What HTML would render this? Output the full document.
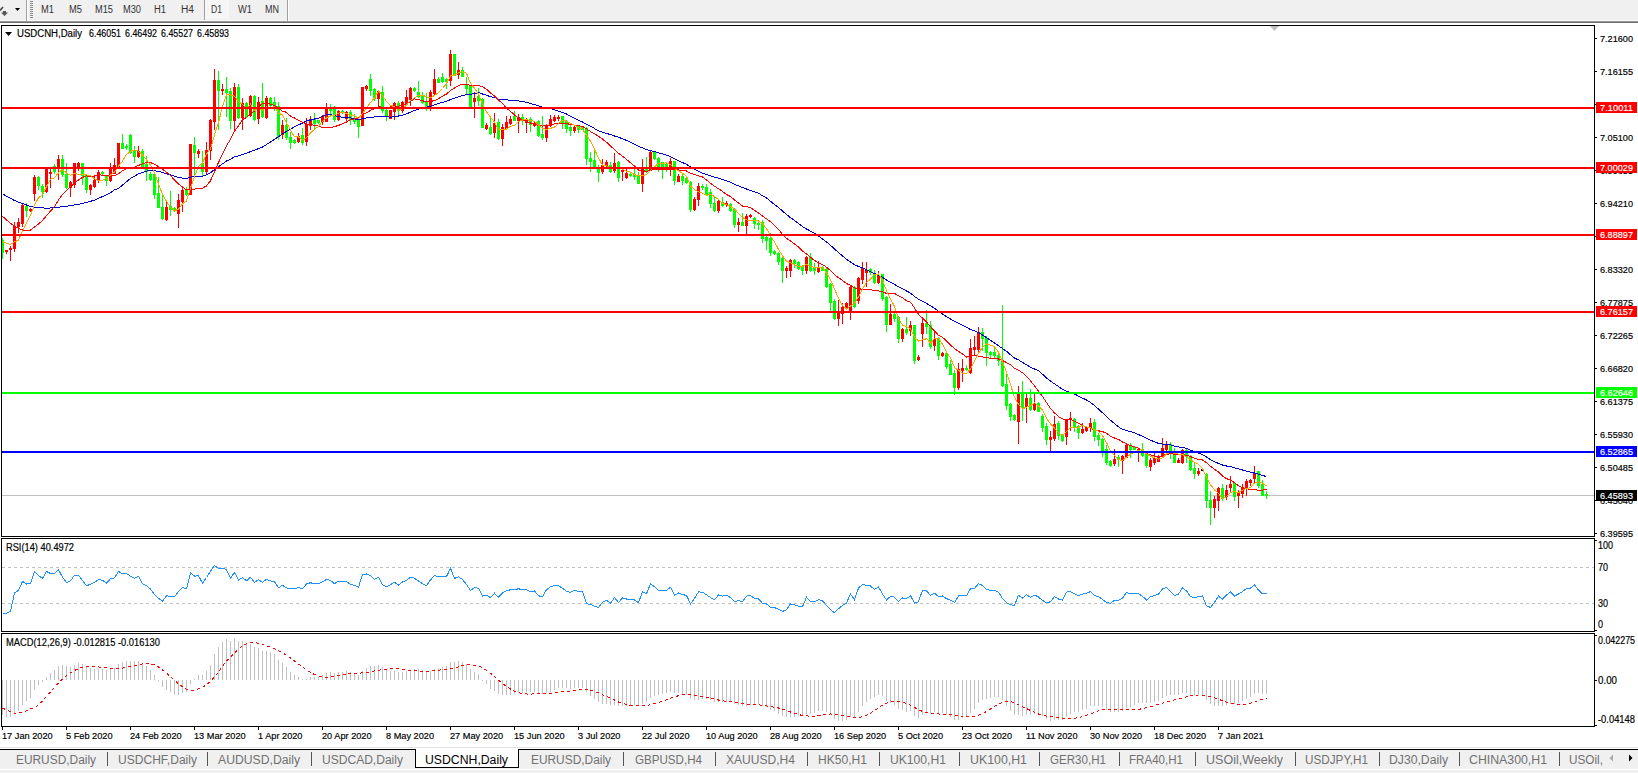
<!DOCTYPE html>
<html><head><meta charset="utf-8"><style>
html,body{margin:0;padding:0;background:#fff;overflow:hidden;width:1638px;height:773px}
svg{display:block;font-family:"Liberation Sans",sans-serif}
</style></head><body>
<svg width="1638" height="773" viewBox="0 0 1638 773">
<rect x="0" y="0" width="1638" height="773" fill="#ffffff"/>

<g shape-rendering="crispEdges">
<rect x="0" y="0" width="1638" height="20" fill="#f0f0f0"/>
<rect x="0" y="20" width="1638" height="1" fill="#f8f8f8"/>
<rect x="0" y="21" width="1638" height="1" fill="#9a9a9a"/>
<rect x="0" y="22" width="1638" height="1" fill="#6e6e6e"/>
<rect x="26" y="0" width="1" height="21" fill="#a0a0a0"/><rect x="27" y="0" width="1" height="21" fill="#ffffff"/>
<rect x="30" y="1" width="3" height="1" fill="#8a8a8a"/>
<rect x="30" y="3" width="3" height="1" fill="#8a8a8a"/>
<rect x="30" y="5" width="3" height="1" fill="#8a8a8a"/>
<rect x="30" y="7" width="3" height="1" fill="#8a8a8a"/>
<rect x="30" y="9" width="3" height="1" fill="#8a8a8a"/>
<rect x="30" y="11" width="3" height="1" fill="#8a8a8a"/>
<rect x="30" y="13" width="3" height="1" fill="#8a8a8a"/>
<rect x="30" y="15" width="3" height="1" fill="#8a8a8a"/>
<rect x="30" y="17" width="3" height="1" fill="#8a8a8a"/>
<rect x="204" y="0" width="1" height="20" fill="#a0a0a0"/><rect x="205" y="0" width="24" height="19" fill="#f6f6f6"/>
<rect x="287" y="0" width="1" height="21" fill="#a0a0a0"/><rect x="288" y="0" width="1" height="21" fill="#ffffff"/>
</g>
<path d="M0,10.5 L3,7" stroke="#444" stroke-width="1.6"/><path d="M1,12.5 L3,12.5 L3,11 L6,11 L6,12.5 L8,12.5 L4.5,16 Z" fill="#555"/><path d="M15,8 L20,8 L17.5,11 Z" fill="#000"/>
<text x="41" y="13" font-size="10" fill="#333" text-anchor="start" textLength="13" lengthAdjust="spacingAndGlyphs">M1</text>
<text x="69" y="13" font-size="10" fill="#333" text-anchor="start" textLength="13" lengthAdjust="spacingAndGlyphs">M5</text>
<text x="95" y="13" font-size="10" fill="#333" text-anchor="start" textLength="18" lengthAdjust="spacingAndGlyphs">M15</text>
<text x="123" y="13" font-size="10" fill="#333" text-anchor="start" textLength="18" lengthAdjust="spacingAndGlyphs">M30</text>
<text x="154" y="13" font-size="10" fill="#333" text-anchor="start" textLength="12" lengthAdjust="spacingAndGlyphs">H1</text>
<text x="181" y="13" font-size="10" fill="#333" text-anchor="start" textLength="13" lengthAdjust="spacingAndGlyphs">H4</text>
<text x="211" y="13" font-size="10" fill="#333" text-anchor="start" textLength="11" lengthAdjust="spacingAndGlyphs">D1</text>
<text x="238" y="13" font-size="10" fill="#333" text-anchor="start" textLength="14" lengthAdjust="spacingAndGlyphs">W1</text>
<text x="265" y="13" font-size="10" fill="#333" text-anchor="start" textLength="14" lengthAdjust="spacingAndGlyphs">MN</text>
<g shape-rendering="crispEdges">
<rect x="1.5" y="25.5" width="1593" height="511" fill="none" stroke="#000"/>
<rect x="1.5" y="538.5" width="1593" height="93" fill="none" stroke="#000"/>
<rect x="1.5" y="633.5" width="1593" height="93" fill="none" stroke="#000"/>
</g>
<defs><clipPath id="cm"><rect x="2" y="26" width="1592" height="510"/></clipPath><clipPath id="cr"><rect x="2" y="539" width="1592" height="92"/></clipPath><clipPath id="cd"><rect x="2" y="634" width="1592" height="92"/></clipPath></defs>
<g shape-rendering="crispEdges">
<rect x="1595" y="38" width="2" height="1" fill="#000"/>
<rect x="1595" y="71" width="2" height="1" fill="#000"/>
<rect x="1595" y="104" width="2" height="1" fill="#000"/>
<rect x="1595" y="137" width="2" height="1" fill="#000"/>
<rect x="1595" y="170" width="2" height="1" fill="#000"/>
<rect x="1595" y="203" width="2" height="1" fill="#000"/>
<rect x="1595" y="236" width="2" height="1" fill="#000"/>
<rect x="1595" y="269" width="2" height="1" fill="#000"/>
<rect x="1595" y="302" width="2" height="1" fill="#000"/>
<rect x="1595" y="335" width="2" height="1" fill="#000"/>
<rect x="1595" y="368" width="2" height="1" fill="#000"/>
<rect x="1595" y="401" width="2" height="1" fill="#000"/>
<rect x="1595" y="434" width="2" height="1" fill="#000"/>
<rect x="1595" y="467" width="2" height="1" fill="#000"/>
<rect x="1595" y="500" width="2" height="1" fill="#000"/>
<rect x="1595" y="533" width="2" height="1" fill="#000"/>
</g>
<text x="1600" y="42" font-size="9.5" fill="#000" text-anchor="start" textLength="33" lengthAdjust="spacingAndGlyphs" stroke="#000" stroke-width="0.18">7.21600</text>
<text x="1600" y="75" font-size="9.5" fill="#000" text-anchor="start" textLength="33" lengthAdjust="spacingAndGlyphs" stroke="#000" stroke-width="0.18">7.16155</text>
<text x="1600" y="108" font-size="9.5" fill="#000" text-anchor="start" textLength="33" lengthAdjust="spacingAndGlyphs" stroke="#000" stroke-width="0.18">7.10543</text>
<text x="1600" y="141" font-size="9.5" fill="#000" text-anchor="start" textLength="33" lengthAdjust="spacingAndGlyphs" stroke="#000" stroke-width="0.18">7.05100</text>
<text x="1600" y="174" font-size="9.5" fill="#000" text-anchor="start" textLength="33" lengthAdjust="spacingAndGlyphs" stroke="#000" stroke-width="0.18">6.99655</text>
<text x="1600" y="207" font-size="9.5" fill="#000" text-anchor="start" textLength="33" lengthAdjust="spacingAndGlyphs" stroke="#000" stroke-width="0.18">6.94210</text>
<text x="1600" y="240" font-size="9.5" fill="#000" text-anchor="start" textLength="33" lengthAdjust="spacingAndGlyphs" stroke="#000" stroke-width="0.18">6.88765</text>
<text x="1600" y="273" font-size="9.5" fill="#000" text-anchor="start" textLength="33" lengthAdjust="spacingAndGlyphs" stroke="#000" stroke-width="0.18">6.83320</text>
<text x="1600" y="306" font-size="9.5" fill="#000" text-anchor="start" textLength="33" lengthAdjust="spacingAndGlyphs" stroke="#000" stroke-width="0.18">6.77875</text>
<text x="1600" y="339" font-size="9.5" fill="#000" text-anchor="start" textLength="33" lengthAdjust="spacingAndGlyphs" stroke="#000" stroke-width="0.18">6.72265</text>
<text x="1600" y="372" font-size="9.5" fill="#000" text-anchor="start" textLength="33" lengthAdjust="spacingAndGlyphs" stroke="#000" stroke-width="0.18">6.66820</text>
<text x="1600" y="405" font-size="9.5" fill="#000" text-anchor="start" textLength="33" lengthAdjust="spacingAndGlyphs" stroke="#000" stroke-width="0.18">6.61375</text>
<text x="1600" y="438" font-size="9.5" fill="#000" text-anchor="start" textLength="33" lengthAdjust="spacingAndGlyphs" stroke="#000" stroke-width="0.18">6.55930</text>
<text x="1600" y="471" font-size="9.5" fill="#000" text-anchor="start" textLength="33" lengthAdjust="spacingAndGlyphs" stroke="#000" stroke-width="0.18">6.50485</text>
<text x="1600" y="504" font-size="9.5" fill="#000" text-anchor="start" textLength="33" lengthAdjust="spacingAndGlyphs" stroke="#000" stroke-width="0.18">6.45040</text>
<text x="1600" y="537" font-size="9.5" fill="#000" text-anchor="start" textLength="33" lengthAdjust="spacingAndGlyphs" stroke="#000" stroke-width="0.18">6.39595</text>
<g clip-path="url(#cm)" shape-rendering="crispEdges">
<rect x="2" y="495" width="1592" height="1" fill="#c0c0c0"/>
<rect x="2" y="238" width="1" height="21" fill="#00ff00"/>
<rect x="1" y="240" width="3" height="13" fill="#00ff00"/>
<rect x="6" y="250" width="1" height="4" fill="#ff0000"/>
<rect x="5" y="250" width="3" height="2" fill="#ff0000"/>
<rect x="10" y="246" width="1" height="15" fill="#ff0000"/>
<rect x="9" y="248" width="3" height="2" fill="#ff0000"/>
<rect x="14" y="222" width="1" height="30" fill="#ff0000"/>
<rect x="13" y="226" width="3" height="23" fill="#ff0000"/>
<rect x="18" y="218" width="1" height="15" fill="#ff0000"/>
<rect x="17" y="222" width="3" height="5" fill="#ff0000"/>
<rect x="22" y="204" width="1" height="23" fill="#ff0000"/>
<rect x="21" y="205" width="3" height="19" fill="#ff0000"/>
<rect x="26" y="203" width="1" height="14" fill="#00ff00"/>
<rect x="25" y="206" width="3" height="5" fill="#00ff00"/>
<rect x="30" y="208" width="1" height="4" fill="#ff0000"/>
<rect x="29" y="209" width="3" height="2" fill="#ff0000"/>
<rect x="34" y="175" width="1" height="26" fill="#ff0000"/>
<rect x="33" y="177" width="3" height="17" fill="#ff0000"/>
<rect x="38" y="176" width="1" height="14" fill="#00ff00"/>
<rect x="37" y="177" width="3" height="9" fill="#00ff00"/>
<rect x="42" y="184" width="1" height="14" fill="#00ff00"/>
<rect x="41" y="186" width="3" height="6" fill="#00ff00"/>
<rect x="46" y="168" width="1" height="25" fill="#ff0000"/>
<rect x="45" y="168" width="3" height="24" fill="#ff0000"/>
<rect x="50" y="168" width="1" height="20" fill="#ff0000"/>
<rect x="49" y="172" width="3" height="2" fill="#ff0000"/>
<rect x="54" y="164" width="1" height="10" fill="#00ff00"/>
<rect x="53" y="166" width="3" height="6" fill="#00ff00"/>
<rect x="58" y="155" width="1" height="25" fill="#ff0000"/>
<rect x="57" y="159" width="3" height="10" fill="#ff0000"/>
<rect x="62" y="155" width="1" height="22" fill="#00ff00"/>
<rect x="61" y="159" width="3" height="16" fill="#00ff00"/>
<rect x="66" y="163" width="1" height="26" fill="#00ff00"/>
<rect x="65" y="174" width="3" height="14" fill="#00ff00"/>
<rect x="70" y="181" width="1" height="16" fill="#ff0000"/>
<rect x="69" y="182" width="3" height="6" fill="#ff0000"/>
<rect x="74" y="163" width="1" height="25" fill="#ff0000"/>
<rect x="73" y="163" width="3" height="22" fill="#ff0000"/>
<rect x="78" y="162" width="1" height="9" fill="#ff0000"/>
<rect x="77" y="163" width="3" height="6" fill="#ff0000"/>
<rect x="82" y="163" width="1" height="22" fill="#00ff00"/>
<rect x="81" y="163" width="3" height="13" fill="#00ff00"/>
<rect x="86" y="174" width="1" height="19" fill="#00ff00"/>
<rect x="85" y="175" width="3" height="15" fill="#00ff00"/>
<rect x="90" y="184" width="1" height="11" fill="#ff0000"/>
<rect x="89" y="185" width="3" height="5" fill="#ff0000"/>
<rect x="94" y="175" width="1" height="13" fill="#ff0000"/>
<rect x="93" y="180" width="3" height="7" fill="#ff0000"/>
<rect x="98" y="170" width="1" height="13" fill="#ff0000"/>
<rect x="97" y="172" width="3" height="9" fill="#ff0000"/>
<rect x="102" y="171" width="1" height="4" fill="#00ff00"/>
<rect x="101" y="172" width="3" height="2" fill="#00ff00"/>
<rect x="106" y="175" width="1" height="11" fill="#00ff00"/>
<rect x="105" y="176" width="3" height="5" fill="#00ff00"/>
<rect x="110" y="163" width="1" height="19" fill="#ff0000"/>
<rect x="109" y="167" width="3" height="14" fill="#ff0000"/>
<rect x="114" y="158" width="1" height="16" fill="#ff0000"/>
<rect x="113" y="165" width="3" height="9" fill="#ff0000"/>
<rect x="118" y="143" width="1" height="25" fill="#ff0000"/>
<rect x="117" y="143" width="3" height="24" fill="#ff0000"/>
<rect x="122" y="134" width="1" height="15" fill="#00ff00"/>
<rect x="121" y="143" width="3" height="6" fill="#00ff00"/>
<rect x="126" y="144" width="1" height="6" fill="#00ff00"/>
<rect x="125" y="146" width="3" height="2" fill="#00ff00"/>
<rect x="130" y="134" width="1" height="20" fill="#00ff00"/>
<rect x="129" y="135" width="3" height="18" fill="#00ff00"/>
<rect x="134" y="146" width="1" height="17" fill="#00ff00"/>
<rect x="133" y="151" width="3" height="6" fill="#00ff00"/>
<rect x="138" y="146" width="1" height="12" fill="#ff0000"/>
<rect x="137" y="151" width="3" height="6" fill="#ff0000"/>
<rect x="142" y="149" width="1" height="19" fill="#00ff00"/>
<rect x="141" y="151" width="3" height="16" fill="#00ff00"/>
<rect x="146" y="156" width="1" height="25" fill="#00ff00"/>
<rect x="145" y="164" width="3" height="8" fill="#00ff00"/>
<rect x="150" y="172" width="1" height="9" fill="#00ff00"/>
<rect x="149" y="174" width="3" height="6" fill="#00ff00"/>
<rect x="154" y="172" width="1" height="27" fill="#00ff00"/>
<rect x="153" y="174" width="3" height="21" fill="#00ff00"/>
<rect x="158" y="177" width="1" height="31" fill="#00ff00"/>
<rect x="157" y="193" width="3" height="15" fill="#00ff00"/>
<rect x="162" y="195" width="1" height="25" fill="#00ff00"/>
<rect x="161" y="207" width="3" height="12" fill="#00ff00"/>
<rect x="166" y="202" width="1" height="19" fill="#ff0000"/>
<rect x="165" y="207" width="3" height="13" fill="#ff0000"/>
<rect x="170" y="191" width="1" height="25" fill="#00ff00"/>
<rect x="169" y="206" width="3" height="4" fill="#00ff00"/>
<rect x="174" y="207" width="1" height="5" fill="#00ff00"/>
<rect x="173" y="208" width="3" height="3" fill="#00ff00"/>
<rect x="178" y="194" width="1" height="34" fill="#ff0000"/>
<rect x="177" y="200" width="3" height="14" fill="#ff0000"/>
<rect x="182" y="188" width="1" height="24" fill="#ff0000"/>
<rect x="181" y="190" width="3" height="12" fill="#ff0000"/>
<rect x="186" y="187" width="1" height="9" fill="#00ff00"/>
<rect x="185" y="190" width="3" height="5" fill="#00ff00"/>
<rect x="190" y="144" width="1" height="51" fill="#ff0000"/>
<rect x="189" y="144" width="3" height="51" fill="#ff0000"/>
<rect x="194" y="137" width="1" height="39" fill="#00ff00"/>
<rect x="193" y="145" width="3" height="8" fill="#00ff00"/>
<rect x="198" y="149" width="1" height="9" fill="#ff0000"/>
<rect x="197" y="151" width="3" height="3" fill="#ff0000"/>
<rect x="202" y="151" width="1" height="25" fill="#00ff00"/>
<rect x="201" y="163" width="3" height="9" fill="#00ff00"/>
<rect x="206" y="142" width="1" height="32" fill="#ff0000"/>
<rect x="205" y="150" width="3" height="22" fill="#ff0000"/>
<rect x="210" y="119" width="1" height="41" fill="#ff0000"/>
<rect x="209" y="120" width="3" height="31" fill="#ff0000"/>
<rect x="214" y="69" width="1" height="61" fill="#ff0000"/>
<rect x="213" y="80" width="3" height="42" fill="#ff0000"/>
<rect x="218" y="71" width="1" height="59" fill="#00ff00"/>
<rect x="217" y="80" width="3" height="11" fill="#00ff00"/>
<rect x="222" y="84" width="1" height="11" fill="#ff0000"/>
<rect x="221" y="89" width="3" height="2" fill="#ff0000"/>
<rect x="226" y="77" width="1" height="40" fill="#00ff00"/>
<rect x="225" y="89" width="3" height="4" fill="#00ff00"/>
<rect x="230" y="88" width="1" height="41" fill="#00ff00"/>
<rect x="229" y="91" width="3" height="30" fill="#00ff00"/>
<rect x="234" y="83" width="1" height="49" fill="#ff0000"/>
<rect x="233" y="87" width="3" height="34" fill="#ff0000"/>
<rect x="238" y="84" width="1" height="35" fill="#00ff00"/>
<rect x="237" y="87" width="3" height="31" fill="#00ff00"/>
<rect x="242" y="98" width="1" height="32" fill="#ff0000"/>
<rect x="241" y="103" width="3" height="15" fill="#ff0000"/>
<rect x="246" y="102" width="1" height="16" fill="#00ff00"/>
<rect x="245" y="103" width="3" height="14" fill="#00ff00"/>
<rect x="250" y="95" width="1" height="22" fill="#ff0000"/>
<rect x="249" y="96" width="3" height="20" fill="#ff0000"/>
<rect x="254" y="95" width="1" height="26" fill="#00ff00"/>
<rect x="253" y="96" width="3" height="24" fill="#00ff00"/>
<rect x="258" y="97" width="1" height="27" fill="#ff0000"/>
<rect x="257" y="102" width="3" height="17" fill="#ff0000"/>
<rect x="262" y="83" width="1" height="35" fill="#00ff00"/>
<rect x="261" y="101" width="3" height="16" fill="#00ff00"/>
<rect x="266" y="96" width="1" height="23" fill="#ff0000"/>
<rect x="265" y="98" width="3" height="20" fill="#ff0000"/>
<rect x="270" y="97" width="1" height="11" fill="#00ff00"/>
<rect x="269" y="98" width="3" height="8" fill="#00ff00"/>
<rect x="274" y="97" width="1" height="14" fill="#00ff00"/>
<rect x="273" y="102" width="3" height="7" fill="#00ff00"/>
<rect x="278" y="102" width="1" height="38" fill="#00ff00"/>
<rect x="277" y="106" width="3" height="31" fill="#00ff00"/>
<rect x="282" y="120" width="1" height="19" fill="#ff0000"/>
<rect x="281" y="125" width="3" height="10" fill="#ff0000"/>
<rect x="286" y="118" width="1" height="22" fill="#00ff00"/>
<rect x="285" y="125" width="3" height="13" fill="#00ff00"/>
<rect x="290" y="132" width="1" height="17" fill="#00ff00"/>
<rect x="289" y="137" width="3" height="6" fill="#00ff00"/>
<rect x="294" y="139" width="1" height="5" fill="#00ff00"/>
<rect x="293" y="140" width="3" height="3" fill="#00ff00"/>
<rect x="298" y="133" width="1" height="10" fill="#ff0000"/>
<rect x="297" y="136" width="3" height="6" fill="#ff0000"/>
<rect x="302" y="128" width="1" height="17" fill="#00ff00"/>
<rect x="301" y="135" width="3" height="8" fill="#00ff00"/>
<rect x="306" y="118" width="1" height="28" fill="#ff0000"/>
<rect x="305" y="124" width="3" height="18" fill="#ff0000"/>
<rect x="310" y="116" width="1" height="14" fill="#ff0000"/>
<rect x="309" y="119" width="3" height="7" fill="#ff0000"/>
<rect x="314" y="113" width="1" height="16" fill="#00ff00"/>
<rect x="313" y="119" width="3" height="5" fill="#00ff00"/>
<rect x="318" y="120" width="1" height="4" fill="#00ff00"/>
<rect x="317" y="120" width="3" height="3" fill="#00ff00"/>
<rect x="322" y="115" width="1" height="10" fill="#ff0000"/>
<rect x="321" y="116" width="3" height="6" fill="#ff0000"/>
<rect x="326" y="103" width="1" height="19" fill="#ff0000"/>
<rect x="325" y="107" width="3" height="15" fill="#ff0000"/>
<rect x="330" y="104" width="1" height="12" fill="#00ff00"/>
<rect x="329" y="108" width="3" height="3" fill="#00ff00"/>
<rect x="334" y="106" width="1" height="16" fill="#00ff00"/>
<rect x="333" y="108" width="3" height="12" fill="#00ff00"/>
<rect x="338" y="110" width="1" height="11" fill="#ff0000"/>
<rect x="337" y="111" width="3" height="9" fill="#ff0000"/>
<rect x="342" y="110" width="1" height="4" fill="#00ff00"/>
<rect x="341" y="111" width="3" height="2" fill="#00ff00"/>
<rect x="346" y="111" width="1" height="12" fill="#ff0000"/>
<rect x="345" y="112" width="3" height="7" fill="#ff0000"/>
<rect x="350" y="110" width="1" height="15" fill="#00ff00"/>
<rect x="349" y="112" width="3" height="8" fill="#00ff00"/>
<rect x="354" y="114" width="1" height="10" fill="#00ff00"/>
<rect x="353" y="118" width="3" height="4" fill="#00ff00"/>
<rect x="358" y="119" width="1" height="19" fill="#00ff00"/>
<rect x="357" y="120" width="3" height="7" fill="#00ff00"/>
<rect x="362" y="87" width="1" height="39" fill="#ff0000"/>
<rect x="361" y="87" width="3" height="39" fill="#ff0000"/>
<rect x="366" y="85" width="1" height="6" fill="#ff0000"/>
<rect x="365" y="86" width="3" height="3" fill="#ff0000"/>
<rect x="370" y="74" width="1" height="22" fill="#00ff00"/>
<rect x="369" y="79" width="3" height="12" fill="#00ff00"/>
<rect x="374" y="88" width="1" height="13" fill="#00ff00"/>
<rect x="373" y="89" width="3" height="10" fill="#00ff00"/>
<rect x="378" y="90" width="1" height="18" fill="#ff0000"/>
<rect x="377" y="91" width="3" height="8" fill="#ff0000"/>
<rect x="382" y="86" width="1" height="27" fill="#00ff00"/>
<rect x="381" y="92" width="3" height="19" fill="#00ff00"/>
<rect x="386" y="109" width="1" height="12" fill="#00ff00"/>
<rect x="385" y="110" width="3" height="7" fill="#00ff00"/>
<rect x="390" y="110" width="1" height="9" fill="#ff0000"/>
<rect x="389" y="110" width="3" height="9" fill="#ff0000"/>
<rect x="394" y="102" width="1" height="18" fill="#ff0000"/>
<rect x="393" y="103" width="3" height="9" fill="#ff0000"/>
<rect x="398" y="101" width="1" height="14" fill="#00ff00"/>
<rect x="397" y="103" width="3" height="8" fill="#00ff00"/>
<rect x="402" y="101" width="1" height="12" fill="#ff0000"/>
<rect x="401" y="102" width="3" height="9" fill="#ff0000"/>
<rect x="406" y="90" width="1" height="16" fill="#ff0000"/>
<rect x="405" y="97" width="3" height="7" fill="#ff0000"/>
<rect x="410" y="87" width="1" height="19" fill="#ff0000"/>
<rect x="409" y="88" width="3" height="12" fill="#ff0000"/>
<rect x="414" y="87" width="1" height="5" fill="#00ff00"/>
<rect x="413" y="88" width="3" height="3" fill="#00ff00"/>
<rect x="418" y="81" width="1" height="17" fill="#00ff00"/>
<rect x="417" y="92" width="3" height="5" fill="#00ff00"/>
<rect x="422" y="92" width="1" height="12" fill="#00ff00"/>
<rect x="421" y="96" width="3" height="7" fill="#00ff00"/>
<rect x="426" y="93" width="1" height="18" fill="#00ff00"/>
<rect x="425" y="102" width="3" height="5" fill="#00ff00"/>
<rect x="430" y="90" width="1" height="21" fill="#ff0000"/>
<rect x="429" y="92" width="3" height="15" fill="#ff0000"/>
<rect x="434" y="69" width="1" height="26" fill="#ff0000"/>
<rect x="433" y="79" width="3" height="15" fill="#ff0000"/>
<rect x="438" y="77" width="1" height="6" fill="#00ff00"/>
<rect x="437" y="79" width="3" height="4" fill="#00ff00"/>
<rect x="442" y="73" width="1" height="10" fill="#00ff00"/>
<rect x="441" y="77" width="3" height="5" fill="#00ff00"/>
<rect x="446" y="78" width="1" height="11" fill="#00ff00"/>
<rect x="445" y="79" width="3" height="3" fill="#00ff00"/>
<rect x="450" y="50" width="1" height="36" fill="#ff0000"/>
<rect x="449" y="54" width="3" height="27" fill="#ff0000"/>
<rect x="454" y="54" width="1" height="22" fill="#00ff00"/>
<rect x="453" y="54" width="3" height="22" fill="#00ff00"/>
<rect x="458" y="62" width="1" height="17" fill="#ff0000"/>
<rect x="457" y="70" width="3" height="5" fill="#ff0000"/>
<rect x="462" y="67" width="1" height="10" fill="#00ff00"/>
<rect x="461" y="70" width="3" height="7" fill="#00ff00"/>
<rect x="466" y="77" width="1" height="17" fill="#00ff00"/>
<rect x="465" y="84" width="3" height="5" fill="#00ff00"/>
<rect x="470" y="85" width="1" height="22" fill="#00ff00"/>
<rect x="469" y="86" width="3" height="21" fill="#00ff00"/>
<rect x="474" y="92" width="1" height="26" fill="#ff0000"/>
<rect x="473" y="98" width="3" height="4" fill="#ff0000"/>
<rect x="478" y="88" width="1" height="18" fill="#00ff00"/>
<rect x="477" y="96" width="3" height="5" fill="#00ff00"/>
<rect x="482" y="98" width="1" height="30" fill="#00ff00"/>
<rect x="481" y="99" width="3" height="29" fill="#00ff00"/>
<rect x="486" y="123" width="1" height="7" fill="#ff0000"/>
<rect x="485" y="125" width="3" height="4" fill="#ff0000"/>
<rect x="490" y="118" width="1" height="17" fill="#00ff00"/>
<rect x="489" y="127" width="3" height="7" fill="#00ff00"/>
<rect x="494" y="113" width="1" height="25" fill="#ff0000"/>
<rect x="493" y="123" width="3" height="10" fill="#ff0000"/>
<rect x="498" y="119" width="1" height="21" fill="#00ff00"/>
<rect x="497" y="122" width="3" height="17" fill="#00ff00"/>
<rect x="502" y="124" width="1" height="22" fill="#ff0000"/>
<rect x="501" y="127" width="3" height="12" fill="#ff0000"/>
<rect x="506" y="116" width="1" height="14" fill="#ff0000"/>
<rect x="505" y="122" width="3" height="7" fill="#ff0000"/>
<rect x="510" y="116" width="1" height="9" fill="#ff0000"/>
<rect x="509" y="119" width="3" height="5" fill="#ff0000"/>
<rect x="514" y="111" width="1" height="10" fill="#00ff00"/>
<rect x="513" y="116" width="3" height="5" fill="#00ff00"/>
<rect x="518" y="114" width="1" height="19" fill="#ff0000"/>
<rect x="517" y="117" width="3" height="4" fill="#ff0000"/>
<rect x="522" y="114" width="1" height="11" fill="#00ff00"/>
<rect x="521" y="117" width="3" height="4" fill="#00ff00"/>
<rect x="526" y="118" width="1" height="15" fill="#ff0000"/>
<rect x="525" y="120" width="3" height="3" fill="#ff0000"/>
<rect x="530" y="117" width="1" height="15" fill="#00ff00"/>
<rect x="529" y="119" width="3" height="6" fill="#00ff00"/>
<rect x="534" y="121" width="1" height="6" fill="#ff0000"/>
<rect x="533" y="123" width="3" height="3" fill="#ff0000"/>
<rect x="538" y="120" width="1" height="17" fill="#00ff00"/>
<rect x="537" y="121" width="3" height="15" fill="#00ff00"/>
<rect x="542" y="116" width="1" height="24" fill="#00ff00"/>
<rect x="541" y="134" width="3" height="4" fill="#00ff00"/>
<rect x="546" y="124" width="1" height="18" fill="#ff0000"/>
<rect x="545" y="125" width="3" height="13" fill="#ff0000"/>
<rect x="550" y="115" width="1" height="12" fill="#ff0000"/>
<rect x="549" y="119" width="3" height="7" fill="#ff0000"/>
<rect x="554" y="115" width="1" height="7" fill="#ff0000"/>
<rect x="553" y="117" width="3" height="4" fill="#ff0000"/>
<rect x="558" y="115" width="1" height="6" fill="#ff0000"/>
<rect x="557" y="117" width="3" height="2" fill="#ff0000"/>
<rect x="562" y="116" width="1" height="13" fill="#00ff00"/>
<rect x="561" y="116" width="3" height="7" fill="#00ff00"/>
<rect x="566" y="120" width="1" height="13" fill="#00ff00"/>
<rect x="565" y="121" width="3" height="8" fill="#00ff00"/>
<rect x="570" y="124" width="1" height="12" fill="#00ff00"/>
<rect x="569" y="127" width="3" height="4" fill="#00ff00"/>
<rect x="574" y="125" width="1" height="8" fill="#ff0000"/>
<rect x="573" y="127" width="3" height="4" fill="#ff0000"/>
<rect x="578" y="125" width="1" height="8" fill="#00ff00"/>
<rect x="577" y="126" width="3" height="4" fill="#00ff00"/>
<rect x="582" y="126" width="1" height="4" fill="#00ff00"/>
<rect x="581" y="127" width="3" height="3" fill="#00ff00"/>
<rect x="586" y="127" width="1" height="38" fill="#00ff00"/>
<rect x="585" y="128" width="3" height="31" fill="#00ff00"/>
<rect x="590" y="152" width="1" height="20" fill="#00ff00"/>
<rect x="589" y="158" width="3" height="4" fill="#00ff00"/>
<rect x="594" y="151" width="1" height="18" fill="#00ff00"/>
<rect x="593" y="160" width="3" height="8" fill="#00ff00"/>
<rect x="598" y="165" width="1" height="17" fill="#00ff00"/>
<rect x="597" y="169" width="3" height="4" fill="#00ff00"/>
<rect x="602" y="159" width="1" height="15" fill="#ff0000"/>
<rect x="601" y="165" width="3" height="7" fill="#ff0000"/>
<rect x="606" y="160" width="1" height="7" fill="#ff0000"/>
<rect x="605" y="162" width="3" height="4" fill="#ff0000"/>
<rect x="610" y="162" width="1" height="11" fill="#00ff00"/>
<rect x="609" y="165" width="3" height="7" fill="#00ff00"/>
<rect x="614" y="153" width="1" height="20" fill="#ff0000"/>
<rect x="613" y="163" width="3" height="8" fill="#ff0000"/>
<rect x="618" y="161" width="1" height="21" fill="#00ff00"/>
<rect x="617" y="162" width="3" height="16" fill="#00ff00"/>
<rect x="622" y="170" width="1" height="11" fill="#ff0000"/>
<rect x="621" y="170" width="3" height="2" fill="#ff0000"/>
<rect x="626" y="169" width="1" height="10" fill="#ff0000"/>
<rect x="625" y="173" width="3" height="5" fill="#ff0000"/>
<rect x="630" y="173" width="1" height="4" fill="#00ff00"/>
<rect x="629" y="174" width="3" height="2" fill="#00ff00"/>
<rect x="634" y="169" width="1" height="11" fill="#00ff00"/>
<rect x="633" y="174" width="3" height="3" fill="#00ff00"/>
<rect x="638" y="172" width="1" height="12" fill="#00ff00"/>
<rect x="637" y="176" width="3" height="8" fill="#00ff00"/>
<rect x="642" y="159" width="1" height="33" fill="#ff0000"/>
<rect x="641" y="167" width="3" height="17" fill="#ff0000"/>
<rect x="646" y="157" width="1" height="16" fill="#00ff00"/>
<rect x="645" y="167" width="3" height="5" fill="#00ff00"/>
<rect x="650" y="151" width="1" height="20" fill="#ff0000"/>
<rect x="649" y="152" width="3" height="18" fill="#ff0000"/>
<rect x="654" y="151" width="1" height="9" fill="#00ff00"/>
<rect x="653" y="152" width="3" height="7" fill="#00ff00"/>
<rect x="658" y="157" width="1" height="15" fill="#00ff00"/>
<rect x="657" y="158" width="3" height="10" fill="#00ff00"/>
<rect x="662" y="162" width="1" height="17" fill="#00ff00"/>
<rect x="661" y="162" width="3" height="6" fill="#00ff00"/>
<rect x="666" y="163" width="1" height="9" fill="#00ff00"/>
<rect x="665" y="164" width="3" height="4" fill="#00ff00"/>
<rect x="670" y="158" width="1" height="18" fill="#ff0000"/>
<rect x="669" y="161" width="3" height="7" fill="#ff0000"/>
<rect x="674" y="161" width="1" height="24" fill="#00ff00"/>
<rect x="673" y="161" width="3" height="20" fill="#00ff00"/>
<rect x="678" y="174" width="1" height="8" fill="#ff0000"/>
<rect x="677" y="176" width="3" height="6" fill="#ff0000"/>
<rect x="682" y="173" width="1" height="12" fill="#00ff00"/>
<rect x="681" y="176" width="3" height="5" fill="#00ff00"/>
<rect x="686" y="177" width="1" height="7" fill="#00ff00"/>
<rect x="685" y="178" width="3" height="5" fill="#00ff00"/>
<rect x="690" y="181" width="1" height="31" fill="#00ff00"/>
<rect x="689" y="182" width="3" height="28" fill="#00ff00"/>
<rect x="694" y="197" width="1" height="14" fill="#ff0000"/>
<rect x="693" y="199" width="3" height="11" fill="#ff0000"/>
<rect x="698" y="183" width="1" height="23" fill="#ff0000"/>
<rect x="697" y="186" width="3" height="14" fill="#ff0000"/>
<rect x="702" y="184" width="1" height="6" fill="#00ff00"/>
<rect x="701" y="186" width="3" height="2" fill="#00ff00"/>
<rect x="706" y="184" width="1" height="12" fill="#00ff00"/>
<rect x="705" y="187" width="3" height="8" fill="#00ff00"/>
<rect x="710" y="189" width="1" height="19" fill="#00ff00"/>
<rect x="709" y="192" width="3" height="12" fill="#00ff00"/>
<rect x="714" y="196" width="1" height="16" fill="#00ff00"/>
<rect x="713" y="203" width="3" height="8" fill="#00ff00"/>
<rect x="718" y="199" width="1" height="14" fill="#ff0000"/>
<rect x="717" y="201" width="3" height="10" fill="#ff0000"/>
<rect x="722" y="197" width="1" height="10" fill="#00ff00"/>
<rect x="721" y="202" width="3" height="4" fill="#00ff00"/>
<rect x="726" y="201" width="1" height="6" fill="#ff0000"/>
<rect x="725" y="203" width="3" height="2" fill="#ff0000"/>
<rect x="730" y="203" width="1" height="9" fill="#00ff00"/>
<rect x="729" y="204" width="3" height="7" fill="#00ff00"/>
<rect x="734" y="208" width="1" height="20" fill="#00ff00"/>
<rect x="733" y="209" width="3" height="16" fill="#00ff00"/>
<rect x="738" y="218" width="1" height="14" fill="#ff0000"/>
<rect x="737" y="222" width="3" height="3" fill="#ff0000"/>
<rect x="742" y="213" width="1" height="13" fill="#00ff00"/>
<rect x="741" y="222" width="3" height="4" fill="#00ff00"/>
<rect x="746" y="214" width="1" height="21" fill="#ff0000"/>
<rect x="745" y="216" width="3" height="10" fill="#ff0000"/>
<rect x="750" y="214" width="1" height="4" fill="#ff0000"/>
<rect x="749" y="215" width="3" height="2" fill="#ff0000"/>
<rect x="754" y="217" width="1" height="12" fill="#00ff00"/>
<rect x="753" y="218" width="3" height="6" fill="#00ff00"/>
<rect x="758" y="220" width="1" height="10" fill="#00ff00"/>
<rect x="757" y="223" width="3" height="2" fill="#00ff00"/>
<rect x="762" y="220" width="1" height="23" fill="#00ff00"/>
<rect x="761" y="222" width="3" height="17" fill="#00ff00"/>
<rect x="766" y="236" width="1" height="14" fill="#00ff00"/>
<rect x="765" y="237" width="3" height="4" fill="#00ff00"/>
<rect x="770" y="233" width="1" height="23" fill="#00ff00"/>
<rect x="769" y="238" width="3" height="15" fill="#00ff00"/>
<rect x="774" y="250" width="1" height="5" fill="#00ff00"/>
<rect x="773" y="251" width="3" height="3" fill="#00ff00"/>
<rect x="778" y="252" width="1" height="13" fill="#00ff00"/>
<rect x="777" y="253" width="3" height="9" fill="#00ff00"/>
<rect x="782" y="257" width="1" height="26" fill="#00ff00"/>
<rect x="781" y="258" width="3" height="13" fill="#00ff00"/>
<rect x="786" y="266" width="1" height="12" fill="#ff0000"/>
<rect x="785" y="268" width="3" height="3" fill="#ff0000"/>
<rect x="790" y="259" width="1" height="18" fill="#ff0000"/>
<rect x="789" y="260" width="3" height="11" fill="#ff0000"/>
<rect x="794" y="259" width="1" height="9" fill="#00ff00"/>
<rect x="793" y="260" width="3" height="4" fill="#00ff00"/>
<rect x="798" y="261" width="1" height="9" fill="#00ff00"/>
<rect x="797" y="262" width="3" height="7" fill="#00ff00"/>
<rect x="802" y="265" width="1" height="10" fill="#00ff00"/>
<rect x="801" y="266" width="3" height="5" fill="#00ff00"/>
<rect x="806" y="256" width="1" height="18" fill="#ff0000"/>
<rect x="805" y="257" width="3" height="14" fill="#ff0000"/>
<rect x="810" y="253" width="1" height="19" fill="#00ff00"/>
<rect x="809" y="257" width="3" height="14" fill="#00ff00"/>
<rect x="814" y="263" width="1" height="12" fill="#00ff00"/>
<rect x="813" y="267" width="3" height="4" fill="#00ff00"/>
<rect x="818" y="261" width="1" height="12" fill="#ff0000"/>
<rect x="817" y="267" width="3" height="5" fill="#ff0000"/>
<rect x="822" y="266" width="1" height="5" fill="#00ff00"/>
<rect x="821" y="267" width="3" height="4" fill="#00ff00"/>
<rect x="826" y="268" width="1" height="20" fill="#00ff00"/>
<rect x="825" y="269" width="3" height="18" fill="#00ff00"/>
<rect x="830" y="283" width="1" height="29" fill="#00ff00"/>
<rect x="829" y="284" width="3" height="19" fill="#00ff00"/>
<rect x="834" y="299" width="1" height="21" fill="#00ff00"/>
<rect x="833" y="301" width="3" height="18" fill="#00ff00"/>
<rect x="838" y="300" width="1" height="26" fill="#ff0000"/>
<rect x="837" y="312" width="3" height="7" fill="#ff0000"/>
<rect x="842" y="303" width="1" height="21" fill="#ff0000"/>
<rect x="841" y="307" width="3" height="7" fill="#ff0000"/>
<rect x="846" y="302" width="1" height="7" fill="#ff0000"/>
<rect x="845" y="303" width="3" height="5" fill="#ff0000"/>
<rect x="850" y="286" width="1" height="34" fill="#ff0000"/>
<rect x="849" y="287" width="3" height="24" fill="#ff0000"/>
<rect x="854" y="286" width="1" height="22" fill="#00ff00"/>
<rect x="853" y="287" width="3" height="20" fill="#00ff00"/>
<rect x="858" y="277" width="1" height="27" fill="#ff0000"/>
<rect x="857" y="278" width="3" height="23" fill="#ff0000"/>
<rect x="862" y="262" width="1" height="22" fill="#ff0000"/>
<rect x="861" y="268" width="3" height="12" fill="#ff0000"/>
<rect x="866" y="262" width="1" height="25" fill="#ff0000"/>
<rect x="865" y="270" width="3" height="3" fill="#ff0000"/>
<rect x="870" y="268" width="1" height="7" fill="#00ff00"/>
<rect x="869" y="269" width="3" height="4" fill="#00ff00"/>
<rect x="874" y="270" width="1" height="14" fill="#00ff00"/>
<rect x="873" y="273" width="3" height="10" fill="#00ff00"/>
<rect x="878" y="271" width="1" height="13" fill="#ff0000"/>
<rect x="877" y="275" width="3" height="8" fill="#ff0000"/>
<rect x="882" y="274" width="1" height="27" fill="#00ff00"/>
<rect x="881" y="274" width="3" height="25" fill="#00ff00"/>
<rect x="886" y="296" width="1" height="36" fill="#00ff00"/>
<rect x="885" y="297" width="3" height="28" fill="#00ff00"/>
<rect x="890" y="304" width="1" height="21" fill="#ff0000"/>
<rect x="889" y="314" width="3" height="11" fill="#ff0000"/>
<rect x="894" y="313" width="1" height="9" fill="#00ff00"/>
<rect x="893" y="314" width="3" height="5" fill="#00ff00"/>
<rect x="898" y="316" width="1" height="27" fill="#00ff00"/>
<rect x="897" y="317" width="3" height="22" fill="#00ff00"/>
<rect x="902" y="328" width="1" height="14" fill="#ff0000"/>
<rect x="901" y="329" width="3" height="10" fill="#ff0000"/>
<rect x="906" y="317" width="1" height="18" fill="#00ff00"/>
<rect x="905" y="329" width="3" height="4" fill="#00ff00"/>
<rect x="910" y="321" width="1" height="15" fill="#ff0000"/>
<rect x="909" y="325" width="3" height="6" fill="#ff0000"/>
<rect x="914" y="325" width="1" height="39" fill="#00ff00"/>
<rect x="913" y="325" width="3" height="36" fill="#00ff00"/>
<rect x="918" y="355" width="1" height="6" fill="#ff0000"/>
<rect x="917" y="357" width="3" height="3" fill="#ff0000"/>
<rect x="922" y="317" width="1" height="30" fill="#ff0000"/>
<rect x="921" y="323" width="3" height="11" fill="#ff0000"/>
<rect x="926" y="310" width="1" height="24" fill="#00ff00"/>
<rect x="925" y="323" width="3" height="4" fill="#00ff00"/>
<rect x="930" y="321" width="1" height="28" fill="#00ff00"/>
<rect x="929" y="325" width="3" height="22" fill="#00ff00"/>
<rect x="934" y="331" width="1" height="20" fill="#ff0000"/>
<rect x="933" y="339" width="3" height="7" fill="#ff0000"/>
<rect x="938" y="337" width="1" height="23" fill="#00ff00"/>
<rect x="937" y="338" width="3" height="18" fill="#00ff00"/>
<rect x="942" y="352" width="1" height="5" fill="#ff0000"/>
<rect x="941" y="353" width="3" height="3" fill="#ff0000"/>
<rect x="946" y="351" width="1" height="18" fill="#00ff00"/>
<rect x="945" y="353" width="3" height="14" fill="#00ff00"/>
<rect x="950" y="360" width="1" height="15" fill="#00ff00"/>
<rect x="949" y="364" width="3" height="11" fill="#00ff00"/>
<rect x="954" y="370" width="1" height="25" fill="#00ff00"/>
<rect x="953" y="373" width="3" height="15" fill="#00ff00"/>
<rect x="958" y="363" width="1" height="27" fill="#ff0000"/>
<rect x="957" y="369" width="3" height="19" fill="#ff0000"/>
<rect x="962" y="359" width="1" height="23" fill="#ff0000"/>
<rect x="961" y="368" width="3" height="3" fill="#ff0000"/>
<rect x="966" y="365" width="1" height="6" fill="#00ff00"/>
<rect x="965" y="368" width="3" height="2" fill="#00ff00"/>
<rect x="970" y="339" width="1" height="35" fill="#ff0000"/>
<rect x="969" y="348" width="3" height="25" fill="#ff0000"/>
<rect x="974" y="336" width="1" height="20" fill="#ff0000"/>
<rect x="973" y="347" width="3" height="3" fill="#ff0000"/>
<rect x="978" y="327" width="1" height="25" fill="#ff0000"/>
<rect x="977" y="332" width="3" height="18" fill="#ff0000"/>
<rect x="982" y="328" width="1" height="23" fill="#00ff00"/>
<rect x="981" y="332" width="3" height="7" fill="#00ff00"/>
<rect x="986" y="336" width="1" height="30" fill="#00ff00"/>
<rect x="985" y="338" width="3" height="15" fill="#00ff00"/>
<rect x="990" y="351" width="1" height="7" fill="#00ff00"/>
<rect x="989" y="352" width="3" height="3" fill="#00ff00"/>
<rect x="994" y="348" width="1" height="11" fill="#00ff00"/>
<rect x="993" y="352" width="3" height="4" fill="#00ff00"/>
<rect x="998" y="354" width="1" height="12" fill="#00ff00"/>
<rect x="997" y="355" width="3" height="6" fill="#00ff00"/>
<rect x="1002" y="305" width="1" height="82" fill="#00ff00"/>
<rect x="1001" y="360" width="3" height="26" fill="#00ff00"/>
<rect x="1006" y="374" width="1" height="36" fill="#00ff00"/>
<rect x="1005" y="384" width="3" height="22" fill="#00ff00"/>
<rect x="1010" y="403" width="1" height="18" fill="#00ff00"/>
<rect x="1009" y="404" width="3" height="13" fill="#00ff00"/>
<rect x="1014" y="414" width="1" height="7" fill="#00ff00"/>
<rect x="1013" y="415" width="3" height="5" fill="#00ff00"/>
<rect x="1018" y="386" width="1" height="58" fill="#ff0000"/>
<rect x="1017" y="394" width="3" height="28" fill="#ff0000"/>
<rect x="1022" y="381" width="1" height="40" fill="#00ff00"/>
<rect x="1021" y="394" width="3" height="14" fill="#00ff00"/>
<rect x="1026" y="394" width="1" height="29" fill="#ff0000"/>
<rect x="1025" y="398" width="3" height="9" fill="#ff0000"/>
<rect x="1030" y="389" width="1" height="22" fill="#00ff00"/>
<rect x="1029" y="398" width="3" height="12" fill="#00ff00"/>
<rect x="1034" y="394" width="1" height="17" fill="#ff0000"/>
<rect x="1033" y="403" width="3" height="7" fill="#ff0000"/>
<rect x="1038" y="402" width="1" height="10" fill="#00ff00"/>
<rect x="1037" y="403" width="3" height="9" fill="#00ff00"/>
<rect x="1042" y="414" width="1" height="18" fill="#00ff00"/>
<rect x="1041" y="416" width="3" height="12" fill="#00ff00"/>
<rect x="1046" y="423" width="1" height="22" fill="#00ff00"/>
<rect x="1045" y="426" width="3" height="14" fill="#00ff00"/>
<rect x="1050" y="431" width="1" height="21" fill="#ff0000"/>
<rect x="1049" y="437" width="3" height="3" fill="#ff0000"/>
<rect x="1054" y="416" width="1" height="25" fill="#ff0000"/>
<rect x="1053" y="424" width="3" height="15" fill="#ff0000"/>
<rect x="1058" y="421" width="1" height="19" fill="#00ff00"/>
<rect x="1057" y="423" width="3" height="13" fill="#00ff00"/>
<rect x="1062" y="434" width="1" height="8" fill="#00ff00"/>
<rect x="1061" y="435" width="3" height="6" fill="#00ff00"/>
<rect x="1066" y="419" width="1" height="26" fill="#ff0000"/>
<rect x="1065" y="419" width="3" height="18" fill="#ff0000"/>
<rect x="1070" y="412" width="1" height="19" fill="#ff0000"/>
<rect x="1069" y="418" width="3" height="2" fill="#ff0000"/>
<rect x="1074" y="418" width="1" height="14" fill="#00ff00"/>
<rect x="1073" y="419" width="3" height="8" fill="#00ff00"/>
<rect x="1078" y="425" width="1" height="14" fill="#00ff00"/>
<rect x="1077" y="426" width="3" height="7" fill="#00ff00"/>
<rect x="1082" y="423" width="1" height="11" fill="#ff0000"/>
<rect x="1081" y="429" width="3" height="4" fill="#ff0000"/>
<rect x="1086" y="426" width="1" height="6" fill="#ff0000"/>
<rect x="1085" y="427" width="3" height="4" fill="#ff0000"/>
<rect x="1090" y="418" width="1" height="14" fill="#ff0000"/>
<rect x="1089" y="423" width="3" height="5" fill="#ff0000"/>
<rect x="1094" y="419" width="1" height="22" fill="#00ff00"/>
<rect x="1093" y="422" width="3" height="15" fill="#00ff00"/>
<rect x="1098" y="433" width="1" height="13" fill="#00ff00"/>
<rect x="1097" y="435" width="3" height="5" fill="#00ff00"/>
<rect x="1102" y="438" width="1" height="19" fill="#00ff00"/>
<rect x="1101" y="439" width="3" height="12" fill="#00ff00"/>
<rect x="1106" y="445" width="1" height="20" fill="#00ff00"/>
<rect x="1105" y="449" width="3" height="14" fill="#00ff00"/>
<rect x="1110" y="460" width="1" height="7" fill="#00ff00"/>
<rect x="1109" y="461" width="3" height="5" fill="#00ff00"/>
<rect x="1114" y="449" width="1" height="17" fill="#ff0000"/>
<rect x="1113" y="459" width="3" height="5" fill="#ff0000"/>
<rect x="1118" y="455" width="1" height="12" fill="#00ff00"/>
<rect x="1117" y="457" width="3" height="3" fill="#00ff00"/>
<rect x="1122" y="455" width="1" height="19" fill="#ff0000"/>
<rect x="1121" y="456" width="3" height="5" fill="#ff0000"/>
<rect x="1126" y="444" width="1" height="14" fill="#ff0000"/>
<rect x="1125" y="445" width="3" height="13" fill="#ff0000"/>
<rect x="1130" y="443" width="1" height="15" fill="#00ff00"/>
<rect x="1129" y="445" width="3" height="5" fill="#00ff00"/>
<rect x="1134" y="446" width="1" height="4" fill="#00ff00"/>
<rect x="1133" y="447" width="3" height="3" fill="#00ff00"/>
<rect x="1138" y="449" width="1" height="13" fill="#ff0000"/>
<rect x="1137" y="449" width="3" height="3" fill="#ff0000"/>
<rect x="1142" y="443" width="1" height="14" fill="#00ff00"/>
<rect x="1141" y="449" width="3" height="7" fill="#00ff00"/>
<rect x="1146" y="453" width="1" height="15" fill="#00ff00"/>
<rect x="1145" y="453" width="3" height="13" fill="#00ff00"/>
<rect x="1150" y="458" width="1" height="13" fill="#ff0000"/>
<rect x="1149" y="460" width="3" height="7" fill="#ff0000"/>
<rect x="1154" y="453" width="1" height="12" fill="#ff0000"/>
<rect x="1153" y="458" width="3" height="5" fill="#ff0000"/>
<rect x="1158" y="455" width="1" height="7" fill="#ff0000"/>
<rect x="1157" y="456" width="3" height="6" fill="#ff0000"/>
<rect x="1162" y="438" width="1" height="20" fill="#ff0000"/>
<rect x="1161" y="448" width="3" height="9" fill="#ff0000"/>
<rect x="1166" y="441" width="1" height="10" fill="#ff0000"/>
<rect x="1165" y="445" width="3" height="5" fill="#ff0000"/>
<rect x="1170" y="442" width="1" height="17" fill="#00ff00"/>
<rect x="1169" y="444" width="3" height="10" fill="#00ff00"/>
<rect x="1174" y="448" width="1" height="15" fill="#00ff00"/>
<rect x="1173" y="451" width="3" height="12" fill="#00ff00"/>
<rect x="1178" y="458" width="1" height="5" fill="#ff0000"/>
<rect x="1177" y="460" width="3" height="3" fill="#ff0000"/>
<rect x="1182" y="449" width="1" height="15" fill="#ff0000"/>
<rect x="1181" y="450" width="3" height="13" fill="#ff0000"/>
<rect x="1186" y="449" width="1" height="14" fill="#00ff00"/>
<rect x="1185" y="450" width="3" height="7" fill="#00ff00"/>
<rect x="1190" y="455" width="1" height="16" fill="#00ff00"/>
<rect x="1189" y="456" width="3" height="14" fill="#00ff00"/>
<rect x="1194" y="462" width="1" height="17" fill="#00ff00"/>
<rect x="1193" y="468" width="3" height="6" fill="#00ff00"/>
<rect x="1198" y="468" width="1" height="8" fill="#ff0000"/>
<rect x="1197" y="471" width="3" height="3" fill="#ff0000"/>
<rect x="1202" y="469" width="1" height="2" fill="#000000"/>
<rect x="1201" y="469" width="3" height="2" fill="#000000"/>
<rect x="1206" y="473" width="1" height="35" fill="#00ff00"/>
<rect x="1205" y="474" width="3" height="27" fill="#00ff00"/>
<rect x="1210" y="491" width="1" height="34" fill="#00ff00"/>
<rect x="1209" y="500" width="3" height="8" fill="#00ff00"/>
<rect x="1214" y="496" width="1" height="22" fill="#ff0000"/>
<rect x="1213" y="499" width="3" height="9" fill="#ff0000"/>
<rect x="1218" y="487" width="1" height="24" fill="#ff0000"/>
<rect x="1217" y="488" width="3" height="13" fill="#ff0000"/>
<rect x="1222" y="484" width="1" height="17" fill="#00ff00"/>
<rect x="1221" y="488" width="3" height="11" fill="#00ff00"/>
<rect x="1226" y="485" width="1" height="15" fill="#ff0000"/>
<rect x="1225" y="490" width="3" height="7" fill="#ff0000"/>
<rect x="1230" y="476" width="1" height="16" fill="#ff0000"/>
<rect x="1229" y="484" width="3" height="4" fill="#ff0000"/>
<rect x="1234" y="482" width="1" height="19" fill="#00ff00"/>
<rect x="1233" y="483" width="3" height="14" fill="#00ff00"/>
<rect x="1238" y="490" width="1" height="18" fill="#ff0000"/>
<rect x="1237" y="492" width="3" height="4" fill="#ff0000"/>
<rect x="1242" y="484" width="1" height="14" fill="#ff0000"/>
<rect x="1241" y="487" width="3" height="7" fill="#ff0000"/>
<rect x="1246" y="479" width="1" height="17" fill="#ff0000"/>
<rect x="1245" y="481" width="3" height="8" fill="#ff0000"/>
<rect x="1250" y="479" width="1" height="7" fill="#ff0000"/>
<rect x="1249" y="480" width="3" height="3" fill="#ff0000"/>
<rect x="1254" y="466" width="1" height="17" fill="#ff0000"/>
<rect x="1253" y="473" width="3" height="6" fill="#ff0000"/>
<rect x="1258" y="471" width="1" height="17" fill="#00ff00"/>
<rect x="1257" y="471" width="3" height="15" fill="#00ff00"/>
<rect x="1262" y="480" width="1" height="16" fill="#00ff00"/>
<rect x="1261" y="484" width="3" height="12" fill="#00ff00"/>
<rect x="1266" y="491" width="1" height="8" fill="#00ff00"/>
<rect x="1265" y="494" width="3" height="2" fill="#00ff00"/>
<polyline points="2.5,193.9 6.5,196.1 10.5,198.3 14.5,200.5 18.5,202.2 22.5,203.6 26.5,205.0 30.5,206.4 34.5,207.1 38.5,207.5 42.5,207.9 46.5,208.2 50.5,208.0 54.5,207.6 58.5,207.2 62.5,206.8 66.5,206.2 70.5,205.6 74.5,205.0 78.5,204.3 82.5,203.3 86.5,202.3 90.5,201.3 94.5,200.2 98.5,198.4 102.5,196.6 106.5,194.8 110.5,192.7 114.5,189.9 118.5,188.6 122.5,185.1 126.5,181.7 130.5,178.5 134.5,176.2 138.5,173.8 142.5,172.5 146.5,171.2 150.5,170.2 154.5,170.8 158.5,171.5 162.5,172.4 166.5,173.7 170.5,174.9 174.5,176.2 178.5,177.6 182.5,178.1 186.5,178.4 190.5,177.1 194.5,176.7 198.5,176.3 202.5,176.2 206.5,174.9 210.5,172.7 214.5,169.4 218.5,166.7 222.5,163.9 226.5,160.9 230.5,159.4 234.5,156.8 238.5,155.9 242.5,154.4 246.5,153.4 250.5,151.5 254.5,150.3 258.5,148.6 262.5,147.0 266.5,144.5 270.5,142.1 274.5,139.2 278.5,136.8 282.5,133.7 286.5,131.4 290.5,129.2 294.5,126.9 298.5,124.8 302.5,123.2 306.5,120.8 310.5,120.0 314.5,119.0 318.5,118.1 322.5,116.2 326.5,114.8 330.5,114.5 334.5,115.8 338.5,116.5 342.5,117.2 346.5,117.9 350.5,117.9 354.5,119.0 358.5,119.3 362.5,118.8 366.5,117.8 370.5,117.6 374.5,116.9 378.5,116.5 382.5,116.3 386.5,116.9 390.5,117.1 394.5,116.9 398.5,116.0 402.5,115.3 406.5,113.9 410.5,112.1 414.5,110.4 418.5,109.1 422.5,107.7 426.5,107.1 430.5,106.2 434.5,104.8 438.5,103.4 442.5,102.3 446.5,101.4 450.5,99.5 454.5,98.1 458.5,96.7 462.5,95.5 466.5,94.7 470.5,94.3 474.5,93.5 478.5,92.6 482.5,94.0 486.5,95.3 490.5,96.7 494.5,97.5 498.5,99.1 502.5,99.7 506.5,99.9 510.5,100.2 514.5,100.7 518.5,101.0 522.5,101.6 526.5,102.3 530.5,103.5 534.5,104.6 538.5,105.9 542.5,107.1 546.5,107.7 550.5,108.6 554.5,109.9 558.5,111.1 562.5,112.4 566.5,114.0 570.5,116.5 574.5,118.3 578.5,120.2 582.5,122.0 586.5,124.3 590.5,126.2 594.5,128.5 598.5,130.9 602.5,132.1 606.5,133.4 610.5,134.6 614.5,136.0 618.5,137.3 622.5,138.7 626.5,140.4 630.5,142.3 634.5,144.1 638.5,146.3 642.5,147.9 646.5,149.6 650.5,150.5 654.5,151.7 658.5,152.8 662.5,153.8 666.5,155.2 670.5,156.6 674.5,158.7 678.5,160.6 682.5,162.6 686.5,164.4 690.5,167.0 694.5,169.4 698.5,171.3 702.5,173.2 706.5,174.4 710.5,175.8 714.5,177.3 718.5,178.2 722.5,179.6 726.5,180.9 730.5,182.2 734.5,184.3 738.5,185.8 742.5,187.6 746.5,189.0 750.5,190.4 754.5,191.9 758.5,193.3 762.5,195.7 766.5,198.0 770.5,201.3 774.5,204.5 778.5,207.6 782.5,211.0 786.5,214.4 790.5,217.7 794.5,220.5 798.5,223.5 802.5,226.5 806.5,229.0 810.5,231.1 814.5,233.4 818.5,236.1 822.5,238.9 826.5,242.0 830.5,245.3 834.5,248.9 838.5,252.6 842.5,256.0 846.5,259.3 850.5,261.9 854.5,264.6 858.5,266.5 862.5,267.9 866.5,269.7 870.5,271.6 874.5,273.6 878.5,275.3 882.5,277.3 886.5,280.1 890.5,282.1 894.5,284.3 898.5,286.9 902.5,288.8 906.5,291.0 910.5,293.1 914.5,296.4 918.5,299.3 922.5,301.1 926.5,303.4 930.5,305.9 934.5,308.2 938.5,311.2 942.5,313.9 946.5,316.6 950.5,319.0 954.5,321.3 958.5,323.2 962.5,325.2 966.5,327.4 970.5,329.5 974.5,330.8 978.5,332.6 982.5,335.0 986.5,337.7 990.5,340.4 994.5,342.9 998.5,345.7 1002.5,348.6 1006.5,351.3 1010.5,354.7 1014.5,358.1 1018.5,359.9 1022.5,362.5 1026.5,364.7 1030.5,367.5 1034.5,369.0 1038.5,370.8 1042.5,374.2 1046.5,378.0 1050.5,381.0 1054.5,383.9 1058.5,386.5 1062.5,389.4 1066.5,391.2 1070.5,392.7 1074.5,394.0 1078.5,396.1 1082.5,398.1 1086.5,400.0 1090.5,402.5 1094.5,405.5 1098.5,409.1 1102.5,412.8 1106.5,416.5 1110.5,420.2 1114.5,423.6 1118.5,426.9 1122.5,429.3 1126.5,430.6 1130.5,431.7 1134.5,432.7 1138.5,434.6 1142.5,436.2 1146.5,438.4 1150.5,440.1 1154.5,441.9 1158.5,443.4 1162.5,444.1 1166.5,444.3 1170.5,444.9 1174.5,446.1 1178.5,447.0 1182.5,447.3 1186.5,448.5 1190.5,450.2 1194.5,451.8 1198.5,453.1 1202.5,454.5 1206.5,456.9 1210.5,459.7 1214.5,461.8 1218.5,463.4 1222.5,465.0 1226.5,466.0 1230.5,466.6 1234.5,467.8 1238.5,468.9 1242.5,470.0 1246.5,471.2 1250.5,472.2 1254.5,473.0 1258.5,474.2 1262.5,475.5 1266.5,476.5" fill="none" stroke="#0000cd" stroke-width="1" />
<polyline points="2.5,216.4 6.5,219.9 10.5,223.3 14.5,226.2 18.5,228.2 22.5,230.0 26.5,230.0 30.5,230.0 34.5,227.0 38.5,224.1 42.5,220.4 46.5,215.7 50.5,211.0 54.5,206.6 58.5,200.0 62.5,194.6 66.5,190.2 70.5,187.1 74.5,182.9 78.5,179.9 82.5,177.4 86.5,175.9 90.5,176.5 94.5,176.1 98.5,174.8 102.5,175.1 106.5,175.7 110.5,175.4 114.5,175.9 118.5,173.6 122.5,170.9 126.5,168.4 130.5,167.6 134.5,167.1 138.5,165.4 142.5,163.7 146.5,162.7 150.5,162.6 154.5,164.2 158.5,166.6 162.5,169.4 166.5,172.2 170.5,175.4 174.5,180.1 178.5,183.9 182.5,186.9 186.5,189.9 190.5,189.1 194.5,189.1 198.5,188.1 202.5,188.1 206.5,186.0 210.5,180.7 214.5,171.6 218.5,162.5 222.5,154.1 226.5,145.7 230.5,139.3 234.5,131.2 238.5,126.0 242.5,119.5 246.5,117.5 250.5,113.5 254.5,111.2 258.5,106.3 262.5,103.9 266.5,102.3 270.5,104.1 274.5,105.4 278.5,108.7 282.5,111.1 286.5,112.3 290.5,116.2 294.5,118.0 298.5,120.4 302.5,122.2 306.5,124.2 310.5,124.2 314.5,125.7 318.5,126.1 322.5,127.4 326.5,127.6 330.5,127.7 334.5,126.5 338.5,125.5 342.5,123.7 346.5,121.6 350.5,119.9 354.5,118.9 358.5,117.7 362.5,115.1 366.5,112.7 370.5,110.4 374.5,108.6 378.5,106.9 382.5,107.1 386.5,107.5 390.5,106.9 394.5,106.3 398.5,106.1 402.5,105.4 406.5,103.9 410.5,101.5 414.5,98.9 418.5,99.6 422.5,100.7 426.5,101.9 430.5,101.4 434.5,100.6 438.5,98.6 442.5,96.1 446.5,94.0 450.5,90.5 454.5,88.0 458.5,85.7 462.5,84.2 466.5,84.2 470.5,85.4 474.5,85.5 478.5,85.4 482.5,86.9 486.5,89.2 490.5,93.1 494.5,96.0 498.5,100.1 502.5,103.4 506.5,108.2 510.5,111.4 514.5,114.9 518.5,117.9 522.5,120.1 526.5,121.1 530.5,123.0 534.5,124.6 538.5,125.2 542.5,126.1 546.5,125.5 550.5,125.2 554.5,123.7 558.5,123.0 562.5,123.0 566.5,123.6 570.5,124.4 574.5,125.1 578.5,125.7 582.5,126.4 586.5,128.8 590.5,131.5 594.5,133.8 598.5,136.3 602.5,139.1 606.5,142.2 610.5,146.1 614.5,149.4 618.5,153.3 622.5,156.3 626.5,159.4 630.5,162.8 634.5,166.1 638.5,170.0 642.5,170.6 646.5,171.4 650.5,170.3 654.5,169.3 658.5,169.4 662.5,169.8 666.5,169.5 670.5,169.4 674.5,169.6 678.5,170.0 682.5,170.5 686.5,171.0 690.5,173.4 694.5,174.5 698.5,175.9 702.5,177.0 706.5,180.0 710.5,183.2 714.5,186.3 718.5,188.7 722.5,191.4 726.5,194.4 730.5,196.6 734.5,200.0 738.5,203.0 742.5,206.1 746.5,206.6 750.5,207.7 754.5,210.4 758.5,213.0 762.5,216.1 766.5,218.8 770.5,221.8 774.5,225.5 778.5,229.5 782.5,234.3 786.5,238.4 790.5,241.0 794.5,243.9 798.5,247.0 802.5,250.9 806.5,253.9 810.5,257.2 814.5,260.5 818.5,262.6 822.5,264.7 826.5,267.1 830.5,270.6 834.5,274.7 838.5,277.7 842.5,280.5 846.5,283.6 850.5,285.3 854.5,288.0 858.5,288.6 862.5,289.4 866.5,289.4 870.5,289.5 874.5,290.6 878.5,290.9 882.5,291.8 886.5,293.4 890.5,293.1 894.5,293.5 898.5,295.7 902.5,297.6 906.5,300.8 910.5,302.1 914.5,308.0 918.5,314.4 922.5,318.1 926.5,322.0 930.5,326.6 934.5,331.1 938.5,335.2 942.5,337.3 946.5,341.0 950.5,345.0 954.5,348.5 958.5,351.4 962.5,353.9 966.5,357.1 970.5,356.2 974.5,355.5 978.5,356.1 982.5,357.0 986.5,357.4 990.5,358.5 994.5,358.5 998.5,359.0 1002.5,360.4 1006.5,362.6 1010.5,364.6 1014.5,368.2 1018.5,370.1 1022.5,372.8 1026.5,376.4 1030.5,380.8 1034.5,385.9 1038.5,391.1 1042.5,396.4 1046.5,402.5 1050.5,408.4 1054.5,412.9 1058.5,416.5 1062.5,419.0 1066.5,419.2 1070.5,419.1 1074.5,421.4 1078.5,423.2 1082.5,425.4 1086.5,426.7 1090.5,428.1 1094.5,429.9 1098.5,430.8 1102.5,431.6 1106.5,433.4 1110.5,436.3 1114.5,438.0 1118.5,439.4 1122.5,442.0 1126.5,443.9 1130.5,445.6 1134.5,446.8 1138.5,448.2 1142.5,450.2 1146.5,453.2 1150.5,454.9 1154.5,456.3 1158.5,456.7 1162.5,455.7 1166.5,454.3 1170.5,453.9 1174.5,454.1 1178.5,454.4 1182.5,454.7 1186.5,455.2 1190.5,456.6 1194.5,458.4 1198.5,459.5 1202.5,459.9 1206.5,462.7 1210.5,466.2 1214.5,469.3 1218.5,472.1 1222.5,475.9 1226.5,478.6 1230.5,480.1 1234.5,482.7 1238.5,485.7 1242.5,487.9 1246.5,488.8 1250.5,489.3 1254.5,489.4 1258.5,490.5 1262.5,490.1 1266.5,489.3" fill="none" stroke="#ff0000" stroke-width="1" />
<polyline points="2.5,241.6 6.5,243.3 10.5,244.4 14.5,241.9 18.5,240.1 22.5,230.7 26.5,222.7 30.5,214.9 34.5,205.1 38.5,197.7 42.5,194.9 46.5,186.5 50.5,179.1 54.5,177.9 58.5,172.7 62.5,169.3 66.5,173.1 70.5,175.1 74.5,173.5 78.5,174.3 82.5,174.5 86.5,174.9 90.5,175.5 94.5,178.9 98.5,180.7 102.5,180.3 106.5,178.5 110.5,174.9 114.5,171.9 118.5,166.1 122.5,161.1 126.5,154.5 130.5,151.5 134.5,149.7 138.5,151.3 142.5,154.9 146.5,159.7 150.5,165.1 154.5,172.7 158.5,183.9 162.5,194.3 166.5,201.5 170.5,207.5 174.5,210.7 178.5,209.3 182.5,203.7 186.5,201.1 190.5,188.1 194.5,176.5 198.5,166.7 202.5,162.9 206.5,154.1 210.5,149.3 214.5,134.9 218.5,122.7 222.5,106.3 226.5,94.7 230.5,94.7 234.5,96.1 238.5,101.5 242.5,104.3 246.5,109.1 250.5,104.3 254.5,110.7 258.5,107.7 262.5,110.3 266.5,106.7 270.5,108.5 274.5,106.3 278.5,113.1 282.5,114.9 286.5,122.7 290.5,130.1 294.5,136.9 298.5,136.9 302.5,140.3 306.5,137.7 310.5,133.1 314.5,129.3 318.5,126.5 322.5,121.3 326.5,117.9 330.5,116.1 334.5,115.3 338.5,113.1 342.5,112.3 346.5,113.3 350.5,115.1 354.5,115.5 358.5,118.5 362.5,113.5 366.5,108.3 370.5,102.5 374.5,97.9 378.5,90.9 382.5,95.5 386.5,101.5 390.5,105.5 394.5,106.5 398.5,110.3 402.5,108.7 406.5,104.9 410.5,100.5 414.5,97.9 418.5,95.1 422.5,95.1 426.5,96.9 430.5,97.7 434.5,95.5 438.5,92.7 442.5,88.5 446.5,83.5 450.5,75.9 454.5,75.1 458.5,72.7 462.5,71.7 466.5,73.1 470.5,83.5 474.5,88.1 478.5,94.1 482.5,104.3 486.5,111.7 490.5,117.1 494.5,122.1 498.5,129.7 502.5,129.7 506.5,129.1 510.5,126.3 514.5,125.7 518.5,121.5 522.5,120.1 526.5,119.7 530.5,120.7 534.5,121.3 538.5,124.9 542.5,128.3 546.5,129.3 550.5,128.3 554.5,127.1 558.5,123.5 562.5,120.5 566.5,121.1 570.5,123.3 574.5,125.3 578.5,127.7 582.5,129.1 586.5,135.1 590.5,141.3 594.5,149.3 598.5,157.9 602.5,165.1 606.5,165.9 610.5,167.9 614.5,167.1 618.5,168.1 622.5,169.1 626.5,171.3 630.5,172.1 634.5,174.7 638.5,175.9 642.5,175.3 646.5,174.9 650.5,170.3 654.5,166.7 658.5,163.5 662.5,163.5 666.5,162.7 670.5,164.5 674.5,168.9 678.5,170.7 682.5,173.3 686.5,176.3 690.5,185.9 694.5,189.7 698.5,191.7 702.5,193.1 706.5,195.5 710.5,194.3 714.5,196.5 718.5,199.5 722.5,203.1 726.5,204.9 730.5,206.3 734.5,209.1 738.5,213.3 742.5,217.3 746.5,219.9 750.5,220.9 754.5,220.7 758.5,221.1 762.5,223.7 766.5,228.5 770.5,235.9 774.5,241.9 778.5,249.3 782.5,255.7 786.5,261.3 790.5,262.9 794.5,264.9 798.5,266.3 802.5,266.3 806.5,264.1 810.5,266.1 814.5,267.5 818.5,267.3 822.5,267.3 826.5,273.1 830.5,279.5 834.5,289.1 838.5,298.1 842.5,305.5 846.5,308.9 850.5,305.9 854.5,303.5 858.5,296.7 862.5,288.9 866.5,282.3 870.5,279.3 874.5,274.5 878.5,273.9 882.5,279.9 886.5,290.7 890.5,299.1 894.5,306.3 898.5,318.9 902.5,325.1 906.5,326.7 910.5,328.9 914.5,337.3 918.5,341.1 922.5,339.9 926.5,338.7 930.5,342.9 934.5,338.7 938.5,338.3 942.5,344.3 946.5,352.3 950.5,357.9 954.5,367.5 958.5,370.3 962.5,373.3 966.5,373.9 970.5,368.7 974.5,360.7 978.5,353.3 982.5,347.3 986.5,343.9 990.5,345.1 994.5,346.7 998.5,352.3 1002.5,361.7 1006.5,372.3 1010.5,384.7 1014.5,397.5 1018.5,404.3 1022.5,408.7 1026.5,407.3 1030.5,405.9 1034.5,402.7 1038.5,406.1 1042.5,410.1 1046.5,418.3 1050.5,423.9 1054.5,428.1 1058.5,432.9 1062.5,435.5 1066.5,431.5 1070.5,427.7 1074.5,428.1 1078.5,427.5 1082.5,425.3 1086.5,426.9 1090.5,427.9 1094.5,429.9 1098.5,431.3 1102.5,435.5 1106.5,442.5 1110.5,450.9 1114.5,455.5 1118.5,459.5 1122.5,460.7 1126.5,457.3 1130.5,454.1 1134.5,452.1 1138.5,450.1 1142.5,449.9 1146.5,453.9 1150.5,456.1 1154.5,457.9 1158.5,459.3 1162.5,457.9 1166.5,453.9 1170.5,452.5 1174.5,453.3 1178.5,454.1 1182.5,454.5 1186.5,456.7 1190.5,459.9 1194.5,462.1 1198.5,464.3 1202.5,468.3 1206.5,477.1 1210.5,484.7 1214.5,489.9 1218.5,493.3 1222.5,498.9 1226.5,496.9 1230.5,492.3 1234.5,491.7 1238.5,492.5 1242.5,490.3 1246.5,488.5 1250.5,487.7 1254.5,483.1 1258.5,481.7 1262.5,483.3 1266.5,486.1" fill="none" stroke="#ffa500" stroke-width="1" />
<rect x="2" y="107" width="1592" height="2" fill="#ff0000"/>
<rect x="2" y="167" width="1592" height="2" fill="#ff0000"/>
<rect x="2" y="234" width="1592" height="2" fill="#ff0000"/>
<rect x="2" y="311" width="1592" height="2" fill="#ff0000"/>
<rect x="2" y="392" width="1592" height="2" fill="#00ff00"/>
<rect x="2" y="451" width="1592" height="2" fill="#0000ff"/>
</g>
<path d="M1270,26 L1279,26 L1274.5,31 Z" fill="#c0c0c0"/>
<path d="M5,32 L12,32 L8.5,36 Z" fill="#000"/>
<text x="17" y="37" font-size="10" fill="#000" text-anchor="start" textLength="65" lengthAdjust="spacingAndGlyphs" stroke="#000" stroke-width="0.18">USDCNH,Daily</text>
<text x="89" y="37" font-size="10" fill="#000" text-anchor="start" textLength="32" lengthAdjust="spacingAndGlyphs" stroke="#000" stroke-width="0.18">6.46051</text>
<text x="125" y="37" font-size="10" fill="#000" text-anchor="start" textLength="32" lengthAdjust="spacingAndGlyphs" stroke="#000" stroke-width="0.18">6.46492</text>
<text x="161" y="37" font-size="10" fill="#000" text-anchor="start" textLength="32" lengthAdjust="spacingAndGlyphs" stroke="#000" stroke-width="0.18">6.45527</text>
<text x="197" y="37" font-size="10" fill="#000" text-anchor="start" textLength="32" lengthAdjust="spacingAndGlyphs" stroke="#000" stroke-width="0.18">6.45893</text>
<rect x="1596" y="102" width="41" height="11" fill="#ff0000" shape-rendering="crispEdges"/>
<text x="1600" y="110.5" font-size="9.5" fill="#fff" text-anchor="start" textLength="33" lengthAdjust="spacingAndGlyphs" stroke="#fff" stroke-width="0.18">7.10011</text>
<rect x="1596" y="162" width="41" height="11" fill="#ff0000" shape-rendering="crispEdges"/>
<text x="1600" y="170.5" font-size="9.5" fill="#fff" text-anchor="start" textLength="33" lengthAdjust="spacingAndGlyphs" stroke="#fff" stroke-width="0.18">7.00029</text>
<rect x="1596" y="229" width="41" height="11" fill="#ff0000" shape-rendering="crispEdges"/>
<text x="1600" y="237.5" font-size="9.5" fill="#fff" text-anchor="start" textLength="33" lengthAdjust="spacingAndGlyphs" stroke="#fff" stroke-width="0.18">6.88897</text>
<rect x="1596" y="306" width="41" height="11" fill="#ff0000" shape-rendering="crispEdges"/>
<text x="1600" y="314.5" font-size="9.5" fill="#fff" text-anchor="start" textLength="33" lengthAdjust="spacingAndGlyphs" stroke="#fff" stroke-width="0.18">6.76157</text>
<rect x="1596" y="387" width="41" height="11" fill="#00ff00" shape-rendering="crispEdges"/>
<text x="1600" y="395.5" font-size="9.5" fill="#fff" text-anchor="start" textLength="33" lengthAdjust="spacingAndGlyphs" stroke="#fff" stroke-width="0.18">6.62646</text>
<rect x="1596" y="446" width="41" height="11" fill="#0000ff" shape-rendering="crispEdges"/>
<text x="1600" y="454.5" font-size="9.5" fill="#fff" text-anchor="start" textLength="33" lengthAdjust="spacingAndGlyphs" stroke="#fff" stroke-width="0.18">6.52865</text>
<rect x="1596" y="490" width="41" height="11" fill="#000000" shape-rendering="crispEdges"/>
<text x="1600" y="498.5" font-size="9.5" fill="#fff" text-anchor="start" textLength="33" lengthAdjust="spacingAndGlyphs" stroke="#fff" stroke-width="0.18">6.45893</text>
<g clip-path="url(#cr)">
<g shape-rendering="crispEdges"><line x1="2" y1="567.5" x2="1594" y2="567.5" stroke="#c0c0c0" stroke-dasharray="3,3"/><line x1="2" y1="603.5" x2="1594" y2="603.5" stroke="#c0c0c0" stroke-dasharray="3,3"/></g>
<polyline points="2.5,613.3 6.5,613.3 10.5,611.2 14.5,592.9 18.5,590.4 22.5,581.4 26.5,584.0 30.5,583.5 34.5,571.3 38.5,575.5 42.5,578.5 46.5,571.5 50.5,573.5 54.5,573.2 58.5,569.8 62.5,577.2 66.5,582.6 70.5,580.9 74.5,575.2 78.5,575.2 82.5,580.4 86.5,585.7 90.5,584.3 94.5,582.5 98.5,579.7 102.5,580.2 106.5,583.3 110.5,578.6 114.5,577.9 118.5,571.3 122.5,573.8 126.5,573.5 130.5,576.1 134.5,578.1 138.5,576.3 142.5,583.6 146.5,585.7 150.5,589.0 154.5,594.4 158.5,598.2 162.5,601.1 166.5,595.8 170.5,596.4 174.5,596.7 178.5,591.7 182.5,587.3 186.5,588.8 190.5,573.0 194.5,576.1 198.5,575.8 202.5,583.1 206.5,577.5 210.5,571.3 214.5,565.4 218.5,568.6 222.5,568.4 226.5,569.5 230.5,578.3 234.5,572.5 238.5,580.1 242.5,577.7 246.5,580.8 250.5,577.2 254.5,582.5 258.5,579.4 262.5,582.5 266.5,579.2 270.5,580.9 274.5,581.6 278.5,587.7 282.5,585.3 286.5,587.9 290.5,588.9 294.5,588.9 298.5,587.3 302.5,588.8 306.5,584.0 310.5,582.7 314.5,583.9 318.5,583.6 322.5,581.9 326.5,579.3 330.5,580.4 334.5,583.7 338.5,581.1 342.5,581.5 346.5,581.5 350.5,584.5 354.5,585.3 358.5,587.4 362.5,574.2 366.5,574.0 370.5,575.8 374.5,579.3 378.5,577.1 382.5,584.8 386.5,586.9 390.5,584.7 394.5,582.2 398.5,585.0 402.5,582.0 406.5,580.3 410.5,577.2 414.5,578.2 418.5,581.0 422.5,583.8 426.5,585.6 430.5,579.9 434.5,575.5 438.5,577.0 442.5,576.6 446.5,576.6 450.5,568.2 454.5,578.4 458.5,576.8 462.5,579.5 466.5,584.4 470.5,590.6 474.5,587.5 478.5,588.2 482.5,596.2 486.5,595.4 490.5,597.5 494.5,593.2 498.5,597.2 502.5,592.8 506.5,590.9 510.5,589.7 514.5,590.0 518.5,588.7 522.5,589.9 526.5,589.9 530.5,591.5 534.5,591.0 538.5,595.8 542.5,596.6 546.5,589.7 550.5,586.7 554.5,585.7 558.5,585.7 562.5,588.3 566.5,591.3 570.5,592.3 574.5,590.3 578.5,591.4 582.5,591.4 586.5,603.6 590.5,604.5 594.5,606.2 598.5,607.6 602.5,602.3 606.5,600.1 610.5,603.2 614.5,597.6 618.5,602.4 622.5,597.9 626.5,599.0 630.5,599.7 634.5,600.0 638.5,602.6 642.5,592.0 646.5,593.7 650.5,584.0 654.5,586.7 658.5,590.5 662.5,590.5 666.5,590.5 670.5,587.2 674.5,595.2 678.5,593.0 682.5,594.6 686.5,595.4 690.5,603.9 694.5,598.3 698.5,591.9 702.5,592.3 706.5,594.7 710.5,597.6 714.5,599.7 718.5,594.9 722.5,596.2 726.5,595.1 730.5,597.6 734.5,601.8 738.5,600.7 742.5,601.6 746.5,596.1 750.5,595.5 754.5,598.4 758.5,598.8 762.5,603.4 766.5,603.9 770.5,607.2 774.5,607.5 778.5,609.4 782.5,611.4 786.5,609.9 790.5,603.8 794.5,604.7 798.5,606.2 802.5,606.8 806.5,597.2 810.5,601.7 814.5,601.7 818.5,599.6 822.5,600.7 826.5,605.8 830.5,609.7 834.5,612.7 838.5,608.7 842.5,605.5 846.5,603.0 850.5,594.0 854.5,599.7 858.5,588.0 862.5,584.6 866.5,585.3 870.5,586.0 874.5,589.5 878.5,586.8 882.5,594.0 886.5,600.1 890.5,596.3 894.5,597.2 898.5,601.5 902.5,597.9 906.5,598.6 910.5,595.7 914.5,603.0 918.5,601.8 922.5,590.3 926.5,591.0 930.5,595.4 934.5,593.2 938.5,596.6 942.5,595.9 946.5,598.6 950.5,600.1 954.5,602.5 958.5,596.0 962.5,595.7 966.5,595.9 970.5,588.6 974.5,588.3 978.5,583.6 982.5,585.5 986.5,589.7 990.5,590.2 994.5,590.5 998.5,592.1 1002.5,598.7 1006.5,602.8 1010.5,604.8 1014.5,605.3 1018.5,595.2 1022.5,598.1 1026.5,594.8 1030.5,597.3 1034.5,595.1 1038.5,597.0 1042.5,600.4 1046.5,602.7 1050.5,601.8 1054.5,596.5 1058.5,599.0 1062.5,600.1 1066.5,592.1 1070.5,591.7 1074.5,593.9 1078.5,595.5 1082.5,594.2 1086.5,593.3 1090.5,591.6 1094.5,595.7 1098.5,596.5 1102.5,599.6 1106.5,602.6 1110.5,603.3 1114.5,600.1 1118.5,600.1 1122.5,598.3 1126.5,592.4 1130.5,593.8 1134.5,593.8 1138.5,593.8 1142.5,596.3 1146.5,600.0 1150.5,596.8 1154.5,595.4 1158.5,594.1 1162.5,589.0 1166.5,587.2 1170.5,591.4 1174.5,595.4 1178.5,594.1 1182.5,587.9 1186.5,590.9 1190.5,596.4 1194.5,597.9 1198.5,596.6 1202.5,595.9 1206.5,605.8 1210.5,607.4 1214.5,602.3 1218.5,596.1 1222.5,599.2 1226.5,594.9 1230.5,591.9 1234.5,596.0 1238.5,594.0 1242.5,591.5 1246.5,588.6 1250.5,588.1 1254.5,584.7 1258.5,590.0 1262.5,593.8 1266.5,593.8" fill="none" stroke="#1e90ff" stroke-width="1" shape-rendering="crispEdges"/>
</g>
<text x="6" y="551" font-size="10" fill="#000" text-anchor="start" textLength="68" lengthAdjust="spacingAndGlyphs" stroke="#000" stroke-width="0.18">RSI(14) 40.4972</text>
<text x="1598" y="549" font-size="10" fill="#000" text-anchor="start" textLength="15" lengthAdjust="spacingAndGlyphs" stroke="#000" stroke-width="0.18">100</text>
<text x="1598" y="571" font-size="10" fill="#000" text-anchor="start" textLength="10" lengthAdjust="spacingAndGlyphs" stroke="#000" stroke-width="0.18">70</text>
<text x="1598" y="607" font-size="10" fill="#000" text-anchor="start" textLength="10" lengthAdjust="spacingAndGlyphs" stroke="#000" stroke-width="0.18">30</text>
<text x="1598" y="628" font-size="10" fill="#000" text-anchor="start" textLength="5" lengthAdjust="spacingAndGlyphs" stroke="#000" stroke-width="0.18">0</text>
<g clip-path="url(#cd)" shape-rendering="crispEdges">
<rect x="2" y="680" width="1" height="35" fill="#c0c0c0"/>
<rect x="6" y="680" width="1" height="37" fill="#c0c0c0"/>
<rect x="10" y="680" width="1" height="37" fill="#c0c0c0"/>
<rect x="14" y="680" width="1" height="34" fill="#c0c0c0"/>
<rect x="18" y="680" width="1" height="31" fill="#c0c0c0"/>
<rect x="22" y="680" width="1" height="25" fill="#c0c0c0"/>
<rect x="26" y="680" width="1" height="21" fill="#c0c0c0"/>
<rect x="30" y="680" width="1" height="18" fill="#c0c0c0"/>
<rect x="34" y="680" width="1" height="10" fill="#c0c0c0"/>
<rect x="38" y="680" width="1" height="5" fill="#c0c0c0"/>
<rect x="42" y="680" width="1" height="2" fill="#c0c0c0"/>
<rect x="46" y="677" width="1" height="3" fill="#c0c0c0"/>
<rect x="50" y="673" width="1" height="7" fill="#c0c0c0"/>
<rect x="54" y="670" width="1" height="10" fill="#c0c0c0"/>
<rect x="58" y="666" width="1" height="14" fill="#c0c0c0"/>
<rect x="62" y="665" width="1" height="15" fill="#c0c0c0"/>
<rect x="66" y="666" width="1" height="14" fill="#c0c0c0"/>
<rect x="70" y="667" width="1" height="13" fill="#c0c0c0"/>
<rect x="74" y="665" width="1" height="15" fill="#c0c0c0"/>
<rect x="78" y="663" width="1" height="17" fill="#c0c0c0"/>
<rect x="82" y="664" width="1" height="16" fill="#c0c0c0"/>
<rect x="86" y="667" width="1" height="13" fill="#c0c0c0"/>
<rect x="90" y="668" width="1" height="12" fill="#c0c0c0"/>
<rect x="94" y="669" width="1" height="11" fill="#c0c0c0"/>
<rect x="98" y="669" width="1" height="11" fill="#c0c0c0"/>
<rect x="102" y="669" width="1" height="11" fill="#c0c0c0"/>
<rect x="106" y="670" width="1" height="10" fill="#c0c0c0"/>
<rect x="110" y="669" width="1" height="11" fill="#c0c0c0"/>
<rect x="114" y="668" width="1" height="12" fill="#c0c0c0"/>
<rect x="118" y="664" width="1" height="16" fill="#c0c0c0"/>
<rect x="122" y="662" width="1" height="18" fill="#c0c0c0"/>
<rect x="126" y="661" width="1" height="19" fill="#c0c0c0"/>
<rect x="130" y="661" width="1" height="19" fill="#c0c0c0"/>
<rect x="134" y="661" width="1" height="19" fill="#c0c0c0"/>
<rect x="138" y="661" width="1" height="19" fill="#c0c0c0"/>
<rect x="142" y="664" width="1" height="16" fill="#c0c0c0"/>
<rect x="146" y="666" width="1" height="14" fill="#c0c0c0"/>
<rect x="150" y="670" width="1" height="10" fill="#c0c0c0"/>
<rect x="154" y="675" width="1" height="5" fill="#c0c0c0"/>
<rect x="158" y="680" width="1" height="1" fill="#c0c0c0"/>
<rect x="162" y="680" width="1" height="7" fill="#c0c0c0"/>
<rect x="166" y="680" width="1" height="10" fill="#c0c0c0"/>
<rect x="170" y="680" width="1" height="12" fill="#c0c0c0"/>
<rect x="174" y="680" width="1" height="15" fill="#c0c0c0"/>
<rect x="178" y="680" width="1" height="15" fill="#c0c0c0"/>
<rect x="182" y="680" width="1" height="13" fill="#c0c0c0"/>
<rect x="186" y="680" width="1" height="12" fill="#c0c0c0"/>
<rect x="190" y="680" width="1" height="4" fill="#c0c0c0"/>
<rect x="194" y="679" width="1" height="1" fill="#c0c0c0"/>
<rect x="198" y="675" width="1" height="5" fill="#c0c0c0"/>
<rect x="202" y="675" width="1" height="5" fill="#c0c0c0"/>
<rect x="206" y="671" width="1" height="9" fill="#c0c0c0"/>
<rect x="210" y="665" width="1" height="15" fill="#c0c0c0"/>
<rect x="214" y="654" width="1" height="26" fill="#c0c0c0"/>
<rect x="218" y="647" width="1" height="33" fill="#c0c0c0"/>
<rect x="222" y="642" width="1" height="38" fill="#c0c0c0"/>
<rect x="226" y="639" width="1" height="41" fill="#c0c0c0"/>
<rect x="230" y="641" width="1" height="39" fill="#c0c0c0"/>
<rect x="234" y="638" width="1" height="42" fill="#c0c0c0"/>
<rect x="238" y="641" width="1" height="39" fill="#c0c0c0"/>
<rect x="242" y="641" width="1" height="39" fill="#c0c0c0"/>
<rect x="246" y="644" width="1" height="36" fill="#c0c0c0"/>
<rect x="250" y="644" width="1" height="36" fill="#c0c0c0"/>
<rect x="254" y="647" width="1" height="33" fill="#c0c0c0"/>
<rect x="258" y="648" width="1" height="32" fill="#c0c0c0"/>
<rect x="262" y="651" width="1" height="29" fill="#c0c0c0"/>
<rect x="266" y="651" width="1" height="29" fill="#c0c0c0"/>
<rect x="270" y="652" width="1" height="28" fill="#c0c0c0"/>
<rect x="274" y="654" width="1" height="26" fill="#c0c0c0"/>
<rect x="278" y="660" width="1" height="20" fill="#c0c0c0"/>
<rect x="282" y="663" width="1" height="17" fill="#c0c0c0"/>
<rect x="286" y="667" width="1" height="13" fill="#c0c0c0"/>
<rect x="290" y="672" width="1" height="8" fill="#c0c0c0"/>
<rect x="294" y="675" width="1" height="5" fill="#c0c0c0"/>
<rect x="298" y="677" width="1" height="3" fill="#c0c0c0"/>
<rect x="302" y="679" width="1" height="1" fill="#c0c0c0"/>
<rect x="306" y="679" width="1" height="1" fill="#c0c0c0"/>
<rect x="310" y="677" width="1" height="3" fill="#c0c0c0"/>
<rect x="314" y="677" width="1" height="3" fill="#c0c0c0"/>
<rect x="318" y="677" width="1" height="3" fill="#c0c0c0"/>
<rect x="322" y="675" width="1" height="5" fill="#c0c0c0"/>
<rect x="326" y="673" width="1" height="7" fill="#c0c0c0"/>
<rect x="330" y="672" width="1" height="8" fill="#c0c0c0"/>
<rect x="334" y="673" width="1" height="7" fill="#c0c0c0"/>
<rect x="338" y="672" width="1" height="8" fill="#c0c0c0"/>
<rect x="342" y="672" width="1" height="8" fill="#c0c0c0"/>
<rect x="346" y="671" width="1" height="9" fill="#c0c0c0"/>
<rect x="350" y="672" width="1" height="8" fill="#c0c0c0"/>
<rect x="354" y="674" width="1" height="6" fill="#c0c0c0"/>
<rect x="358" y="675" width="1" height="5" fill="#c0c0c0"/>
<rect x="362" y="671" width="1" height="9" fill="#c0c0c0"/>
<rect x="366" y="668" width="1" height="12" fill="#c0c0c0"/>
<rect x="370" y="666" width="1" height="14" fill="#c0c0c0"/>
<rect x="374" y="666" width="1" height="14" fill="#c0c0c0"/>
<rect x="378" y="665" width="1" height="15" fill="#c0c0c0"/>
<rect x="382" y="667" width="1" height="13" fill="#c0c0c0"/>
<rect x="386" y="669" width="1" height="11" fill="#c0c0c0"/>
<rect x="390" y="671" width="1" height="9" fill="#c0c0c0"/>
<rect x="394" y="671" width="1" height="9" fill="#c0c0c0"/>
<rect x="398" y="672" width="1" height="8" fill="#c0c0c0"/>
<rect x="402" y="672" width="1" height="8" fill="#c0c0c0"/>
<rect x="406" y="671" width="1" height="9" fill="#c0c0c0"/>
<rect x="410" y="670" width="1" height="10" fill="#c0c0c0"/>
<rect x="414" y="669" width="1" height="11" fill="#c0c0c0"/>
<rect x="418" y="669" width="1" height="11" fill="#c0c0c0"/>
<rect x="422" y="670" width="1" height="10" fill="#c0c0c0"/>
<rect x="426" y="672" width="1" height="8" fill="#c0c0c0"/>
<rect x="430" y="671" width="1" height="9" fill="#c0c0c0"/>
<rect x="434" y="669" width="1" height="11" fill="#c0c0c0"/>
<rect x="438" y="668" width="1" height="12" fill="#c0c0c0"/>
<rect x="442" y="667" width="1" height="13" fill="#c0c0c0"/>
<rect x="446" y="666" width="1" height="14" fill="#c0c0c0"/>
<rect x="450" y="662" width="1" height="18" fill="#c0c0c0"/>
<rect x="454" y="662" width="1" height="18" fill="#c0c0c0"/>
<rect x="458" y="661" width="1" height="19" fill="#c0c0c0"/>
<rect x="462" y="662" width="1" height="18" fill="#c0c0c0"/>
<rect x="466" y="664" width="1" height="16" fill="#c0c0c0"/>
<rect x="470" y="669" width="1" height="11" fill="#c0c0c0"/>
<rect x="474" y="672" width="1" height="8" fill="#c0c0c0"/>
<rect x="478" y="674" width="1" height="6" fill="#c0c0c0"/>
<rect x="482" y="680" width="1" height="1" fill="#c0c0c0"/>
<rect x="486" y="680" width="1" height="4" fill="#c0c0c0"/>
<rect x="490" y="680" width="1" height="9" fill="#c0c0c0"/>
<rect x="494" y="680" width="1" height="11" fill="#c0c0c0"/>
<rect x="498" y="680" width="1" height="14" fill="#c0c0c0"/>
<rect x="502" y="680" width="1" height="15" fill="#c0c0c0"/>
<rect x="506" y="680" width="1" height="15" fill="#c0c0c0"/>
<rect x="510" y="680" width="1" height="15" fill="#c0c0c0"/>
<rect x="514" y="680" width="1" height="14" fill="#c0c0c0"/>
<rect x="518" y="680" width="1" height="13" fill="#c0c0c0"/>
<rect x="522" y="680" width="1" height="13" fill="#c0c0c0"/>
<rect x="526" y="680" width="1" height="12" fill="#c0c0c0"/>
<rect x="530" y="680" width="1" height="12" fill="#c0c0c0"/>
<rect x="534" y="680" width="1" height="12" fill="#c0c0c0"/>
<rect x="538" y="680" width="1" height="13" fill="#c0c0c0"/>
<rect x="542" y="680" width="1" height="14" fill="#c0c0c0"/>
<rect x="546" y="680" width="1" height="13" fill="#c0c0c0"/>
<rect x="550" y="680" width="1" height="12" fill="#c0c0c0"/>
<rect x="554" y="680" width="1" height="10" fill="#c0c0c0"/>
<rect x="558" y="680" width="1" height="8" fill="#c0c0c0"/>
<rect x="562" y="680" width="1" height="8" fill="#c0c0c0"/>
<rect x="566" y="680" width="1" height="8" fill="#c0c0c0"/>
<rect x="570" y="680" width="1" height="9" fill="#c0c0c0"/>
<rect x="574" y="680" width="1" height="8" fill="#c0c0c0"/>
<rect x="578" y="680" width="1" height="8" fill="#c0c0c0"/>
<rect x="582" y="680" width="1" height="8" fill="#c0c0c0"/>
<rect x="586" y="680" width="1" height="12" fill="#c0c0c0"/>
<rect x="590" y="680" width="1" height="16" fill="#c0c0c0"/>
<rect x="594" y="680" width="1" height="19" fill="#c0c0c0"/>
<rect x="598" y="680" width="1" height="22" fill="#c0c0c0"/>
<rect x="602" y="680" width="1" height="24" fill="#c0c0c0"/>
<rect x="606" y="680" width="1" height="24" fill="#c0c0c0"/>
<rect x="610" y="680" width="1" height="25" fill="#c0c0c0"/>
<rect x="614" y="680" width="1" height="25" fill="#c0c0c0"/>
<rect x="618" y="680" width="1" height="26" fill="#c0c0c0"/>
<rect x="622" y="680" width="1" height="26" fill="#c0c0c0"/>
<rect x="626" y="680" width="1" height="26" fill="#c0c0c0"/>
<rect x="630" y="680" width="1" height="26" fill="#c0c0c0"/>
<rect x="634" y="680" width="1" height="25" fill="#c0c0c0"/>
<rect x="638" y="680" width="1" height="26" fill="#c0c0c0"/>
<rect x="642" y="680" width="1" height="24" fill="#c0c0c0"/>
<rect x="646" y="680" width="1" height="22" fill="#c0c0c0"/>
<rect x="650" y="680" width="1" height="18" fill="#c0c0c0"/>
<rect x="654" y="680" width="1" height="16" fill="#c0c0c0"/>
<rect x="658" y="680" width="1" height="15" fill="#c0c0c0"/>
<rect x="662" y="680" width="1" height="14" fill="#c0c0c0"/>
<rect x="666" y="680" width="1" height="13" fill="#c0c0c0"/>
<rect x="670" y="680" width="1" height="12" fill="#c0c0c0"/>
<rect x="674" y="680" width="1" height="13" fill="#c0c0c0"/>
<rect x="678" y="680" width="1" height="13" fill="#c0c0c0"/>
<rect x="682" y="680" width="1" height="14" fill="#c0c0c0"/>
<rect x="686" y="680" width="1" height="15" fill="#c0c0c0"/>
<rect x="690" y="680" width="1" height="19" fill="#c0c0c0"/>
<rect x="694" y="680" width="1" height="20" fill="#c0c0c0"/>
<rect x="698" y="680" width="1" height="20" fill="#c0c0c0"/>
<rect x="702" y="680" width="1" height="19" fill="#c0c0c0"/>
<rect x="706" y="680" width="1" height="19" fill="#c0c0c0"/>
<rect x="710" y="680" width="1" height="20" fill="#c0c0c0"/>
<rect x="714" y="680" width="1" height="22" fill="#c0c0c0"/>
<rect x="718" y="680" width="1" height="22" fill="#c0c0c0"/>
<rect x="722" y="680" width="1" height="22" fill="#c0c0c0"/>
<rect x="726" y="680" width="1" height="22" fill="#c0c0c0"/>
<rect x="730" y="680" width="1" height="22" fill="#c0c0c0"/>
<rect x="734" y="680" width="1" height="24" fill="#c0c0c0"/>
<rect x="738" y="680" width="1" height="25" fill="#c0c0c0"/>
<rect x="742" y="680" width="1" height="26" fill="#c0c0c0"/>
<rect x="746" y="680" width="1" height="26" fill="#c0c0c0"/>
<rect x="750" y="680" width="1" height="25" fill="#c0c0c0"/>
<rect x="754" y="680" width="1" height="25" fill="#c0c0c0"/>
<rect x="758" y="680" width="1" height="24" fill="#c0c0c0"/>
<rect x="762" y="680" width="1" height="26" fill="#c0c0c0"/>
<rect x="766" y="680" width="1" height="27" fill="#c0c0c0"/>
<rect x="770" y="680" width="1" height="30" fill="#c0c0c0"/>
<rect x="774" y="680" width="1" height="31" fill="#c0c0c0"/>
<rect x="778" y="680" width="1" height="34" fill="#c0c0c0"/>
<rect x="782" y="680" width="1" height="36" fill="#c0c0c0"/>
<rect x="786" y="680" width="1" height="37" fill="#c0c0c0"/>
<rect x="790" y="680" width="1" height="37" fill="#c0c0c0"/>
<rect x="794" y="680" width="1" height="37" fill="#c0c0c0"/>
<rect x="798" y="680" width="1" height="36" fill="#c0c0c0"/>
<rect x="802" y="680" width="1" height="36" fill="#c0c0c0"/>
<rect x="806" y="680" width="1" height="34" fill="#c0c0c0"/>
<rect x="810" y="680" width="1" height="34" fill="#c0c0c0"/>
<rect x="814" y="680" width="1" height="33" fill="#c0c0c0"/>
<rect x="818" y="680" width="1" height="31" fill="#c0c0c0"/>
<rect x="822" y="680" width="1" height="31" fill="#c0c0c0"/>
<rect x="826" y="680" width="1" height="32" fill="#c0c0c0"/>
<rect x="830" y="680" width="1" height="35" fill="#c0c0c0"/>
<rect x="834" y="680" width="1" height="39" fill="#c0c0c0"/>
<rect x="838" y="680" width="1" height="41" fill="#c0c0c0"/>
<rect x="842" y="680" width="1" height="41" fill="#c0c0c0"/>
<rect x="846" y="680" width="1" height="40" fill="#c0c0c0"/>
<rect x="850" y="680" width="1" height="37" fill="#c0c0c0"/>
<rect x="854" y="680" width="1" height="37" fill="#c0c0c0"/>
<rect x="858" y="680" width="1" height="32" fill="#c0c0c0"/>
<rect x="862" y="680" width="1" height="26" fill="#c0c0c0"/>
<rect x="866" y="680" width="1" height="22" fill="#c0c0c0"/>
<rect x="870" y="680" width="1" height="19" fill="#c0c0c0"/>
<rect x="874" y="680" width="1" height="17" fill="#c0c0c0"/>
<rect x="878" y="680" width="1" height="15" fill="#c0c0c0"/>
<rect x="882" y="680" width="1" height="16" fill="#c0c0c0"/>
<rect x="886" y="680" width="1" height="21" fill="#c0c0c0"/>
<rect x="890" y="680" width="1" height="23" fill="#c0c0c0"/>
<rect x="894" y="680" width="1" height="25" fill="#c0c0c0"/>
<rect x="898" y="680" width="1" height="29" fill="#c0c0c0"/>
<rect x="902" y="680" width="1" height="30" fill="#c0c0c0"/>
<rect x="906" y="680" width="1" height="32" fill="#c0c0c0"/>
<rect x="910" y="680" width="1" height="31" fill="#c0c0c0"/>
<rect x="914" y="680" width="1" height="36" fill="#c0c0c0"/>
<rect x="918" y="680" width="1" height="38" fill="#c0c0c0"/>
<rect x="922" y="680" width="1" height="35" fill="#c0c0c0"/>
<rect x="926" y="680" width="1" height="32" fill="#c0c0c0"/>
<rect x="930" y="680" width="1" height="33" fill="#c0c0c0"/>
<rect x="934" y="680" width="1" height="32" fill="#c0c0c0"/>
<rect x="938" y="680" width="1" height="33" fill="#c0c0c0"/>
<rect x="942" y="680" width="1" height="33" fill="#c0c0c0"/>
<rect x="946" y="680" width="1" height="35" fill="#c0c0c0"/>
<rect x="950" y="680" width="1" height="37" fill="#c0c0c0"/>
<rect x="954" y="680" width="1" height="40" fill="#c0c0c0"/>
<rect x="958" y="680" width="1" height="40" fill="#c0c0c0"/>
<rect x="962" y="680" width="1" height="38" fill="#c0c0c0"/>
<rect x="966" y="680" width="1" height="37" fill="#c0c0c0"/>
<rect x="970" y="680" width="1" height="33" fill="#c0c0c0"/>
<rect x="974" y="680" width="1" height="29" fill="#c0c0c0"/>
<rect x="978" y="680" width="1" height="23" fill="#c0c0c0"/>
<rect x="982" y="680" width="1" height="20" fill="#c0c0c0"/>
<rect x="986" y="680" width="1" height="19" fill="#c0c0c0"/>
<rect x="990" y="680" width="1" height="18" fill="#c0c0c0"/>
<rect x="994" y="680" width="1" height="17" fill="#c0c0c0"/>
<rect x="998" y="680" width="1" height="17" fill="#c0c0c0"/>
<rect x="1002" y="680" width="1" height="20" fill="#c0c0c0"/>
<rect x="1006" y="680" width="1" height="26" fill="#c0c0c0"/>
<rect x="1010" y="680" width="1" height="31" fill="#c0c0c0"/>
<rect x="1014" y="680" width="1" height="35" fill="#c0c0c0"/>
<rect x="1018" y="680" width="1" height="35" fill="#c0c0c0"/>
<rect x="1022" y="680" width="1" height="36" fill="#c0c0c0"/>
<rect x="1026" y="680" width="1" height="35" fill="#c0c0c0"/>
<rect x="1030" y="680" width="1" height="35" fill="#c0c0c0"/>
<rect x="1034" y="680" width="1" height="34" fill="#c0c0c0"/>
<rect x="1038" y="680" width="1" height="34" fill="#c0c0c0"/>
<rect x="1042" y="680" width="1" height="36" fill="#c0c0c0"/>
<rect x="1046" y="680" width="1" height="39" fill="#c0c0c0"/>
<rect x="1050" y="680" width="1" height="41" fill="#c0c0c0"/>
<rect x="1054" y="680" width="1" height="40" fill="#c0c0c0"/>
<rect x="1058" y="680" width="1" height="40" fill="#c0c0c0"/>
<rect x="1062" y="680" width="1" height="40" fill="#c0c0c0"/>
<rect x="1066" y="680" width="1" height="37" fill="#c0c0c0"/>
<rect x="1070" y="680" width="1" height="34" fill="#c0c0c0"/>
<rect x="1074" y="680" width="1" height="32" fill="#c0c0c0"/>
<rect x="1078" y="680" width="1" height="32" fill="#c0c0c0"/>
<rect x="1082" y="680" width="1" height="30" fill="#c0c0c0"/>
<rect x="1086" y="680" width="1" height="29" fill="#c0c0c0"/>
<rect x="1090" y="680" width="1" height="26" fill="#c0c0c0"/>
<rect x="1094" y="680" width="1" height="26" fill="#c0c0c0"/>
<rect x="1098" y="680" width="1" height="26" fill="#c0c0c0"/>
<rect x="1102" y="680" width="1" height="27" fill="#c0c0c0"/>
<rect x="1106" y="680" width="1" height="30" fill="#c0c0c0"/>
<rect x="1110" y="680" width="1" height="32" fill="#c0c0c0"/>
<rect x="1114" y="680" width="1" height="32" fill="#c0c0c0"/>
<rect x="1118" y="680" width="1" height="32" fill="#c0c0c0"/>
<rect x="1122" y="680" width="1" height="31" fill="#c0c0c0"/>
<rect x="1126" y="680" width="1" height="28" fill="#c0c0c0"/>
<rect x="1130" y="680" width="1" height="27" fill="#c0c0c0"/>
<rect x="1134" y="680" width="1" height="25" fill="#c0c0c0"/>
<rect x="1138" y="680" width="1" height="23" fill="#c0c0c0"/>
<rect x="1142" y="680" width="1" height="23" fill="#c0c0c0"/>
<rect x="1146" y="680" width="1" height="23" fill="#c0c0c0"/>
<rect x="1150" y="680" width="1" height="23" fill="#c0c0c0"/>
<rect x="1154" y="680" width="1" height="22" fill="#c0c0c0"/>
<rect x="1158" y="680" width="1" height="21" fill="#c0c0c0"/>
<rect x="1162" y="680" width="1" height="18" fill="#c0c0c0"/>
<rect x="1166" y="680" width="1" height="16" fill="#c0c0c0"/>
<rect x="1170" y="680" width="1" height="15" fill="#c0c0c0"/>
<rect x="1174" y="680" width="1" height="15" fill="#c0c0c0"/>
<rect x="1178" y="680" width="1" height="15" fill="#c0c0c0"/>
<rect x="1182" y="680" width="1" height="13" fill="#c0c0c0"/>
<rect x="1186" y="680" width="1" height="13" fill="#c0c0c0"/>
<rect x="1190" y="680" width="1" height="14" fill="#c0c0c0"/>
<rect x="1194" y="680" width="1" height="15" fill="#c0c0c0"/>
<rect x="1198" y="680" width="1" height="16" fill="#c0c0c0"/>
<rect x="1202" y="680" width="1" height="16" fill="#c0c0c0"/>
<rect x="1206" y="680" width="1" height="20" fill="#c0c0c0"/>
<rect x="1210" y="680" width="1" height="24" fill="#c0c0c0"/>
<rect x="1214" y="680" width="1" height="26" fill="#c0c0c0"/>
<rect x="1218" y="680" width="1" height="26" fill="#c0c0c0"/>
<rect x="1222" y="680" width="1" height="26" fill="#c0c0c0"/>
<rect x="1226" y="680" width="1" height="25" fill="#c0c0c0"/>
<rect x="1230" y="680" width="1" height="24" fill="#c0c0c0"/>
<rect x="1234" y="680" width="1" height="24" fill="#c0c0c0"/>
<rect x="1238" y="680" width="1" height="23" fill="#c0c0c0"/>
<rect x="1242" y="680" width="1" height="21" fill="#c0c0c0"/>
<rect x="1246" y="680" width="1" height="19" fill="#c0c0c0"/>
<rect x="1250" y="680" width="1" height="17" fill="#c0c0c0"/>
<rect x="1254" y="680" width="1" height="14" fill="#c0c0c0"/>
<rect x="1258" y="680" width="1" height="13" fill="#c0c0c0"/>
<rect x="1262" y="680" width="1" height="14" fill="#c0c0c0"/>
<rect x="1266" y="680" width="1" height="14" fill="#c0c0c0"/>
<polyline points="2.5,708.0 6.5,710.0 10.5,711.9 14.5,713.2 18.5,712.9 22.5,712.7 26.5,710.7 30.5,708.2 34.5,708.1 38.5,704.8 42.5,701.0 46.5,696.5 50.5,691.9 54.5,687.4 58.5,683.0 62.5,679.0 66.5,675.5 70.5,672.9 74.5,670.6 78.5,668.5 82.5,667.1 86.5,666.4 90.5,666.2 94.5,666.6 98.5,667.0 102.5,667.3 106.5,667.6 110.5,668.1 114.5,668.6 118.5,668.6 122.5,668.2 126.5,667.3 130.5,666.4 134.5,665.5 138.5,664.7 142.5,664.0 146.5,663.7 150.5,663.8 154.5,665.0 158.5,667.0 162.5,669.9 166.5,673.1 170.5,676.6 174.5,680.3 178.5,683.7 182.5,686.7 186.5,689.2 190.5,690.3 194.5,690.1 198.5,688.8 202.5,687.1 206.5,684.8 210.5,681.4 214.5,676.9 218.5,671.8 222.5,666.2 226.5,661.2 230.5,657.0 234.5,652.9 238.5,649.2 242.5,645.8 246.5,643.6 250.5,642.5 254.5,642.5 258.5,643.2 262.5,644.5 266.5,645.6 270.5,647.1 274.5,648.6 278.5,650.6 282.5,652.7 286.5,655.3 290.5,658.0 294.5,661.0 298.5,663.9 302.5,667.0 306.5,670.0 310.5,672.5 314.5,674.5 318.5,676.0 322.5,676.9 326.5,677.1 330.5,676.8 334.5,676.3 338.5,675.5 342.5,674.7 346.5,674.0 350.5,673.5 354.5,673.2 358.5,673.2 362.5,672.9 366.5,672.4 370.5,671.7 374.5,671.0 378.5,670.2 382.5,669.7 386.5,669.3 390.5,669.0 394.5,668.6 398.5,668.7 402.5,669.2 406.5,669.8 410.5,670.3 414.5,670.7 418.5,671.0 422.5,671.0 426.5,671.1 430.5,671.1 434.5,670.8 438.5,670.3 442.5,669.7 446.5,669.3 450.5,668.6 454.5,667.8 458.5,666.8 462.5,665.7 466.5,664.9 470.5,664.9 474.5,665.4 478.5,666.2 482.5,667.7 486.5,670.2 490.5,673.2 494.5,676.5 498.5,680.1 502.5,683.5 506.5,686.5 510.5,689.0 514.5,691.2 518.5,692.7 522.5,693.6 526.5,694.0 530.5,694.1 534.5,693.9 538.5,693.6 542.5,693.5 546.5,693.4 550.5,693.1 554.5,692.8 558.5,692.3 562.5,691.9 566.5,691.4 570.5,691.1 574.5,690.6 578.5,689.9 582.5,689.3 586.5,689.4 590.5,690.1 594.5,691.3 598.5,692.9 602.5,694.7 606.5,696.4 610.5,698.2 614.5,700.0 618.5,702.0 622.5,703.4 626.5,704.5 630.5,705.2 634.5,705.5 638.5,705.8 642.5,705.8 646.5,705.5 650.5,704.8 654.5,703.7 658.5,702.5 662.5,701.2 666.5,699.9 670.5,698.3 674.5,696.9 678.5,695.7 682.5,694.8 686.5,694.3 690.5,694.7 694.5,695.2 698.5,695.9 702.5,696.5 706.5,697.3 710.5,698.1 714.5,699.1 718.5,700.0 722.5,700.9 726.5,701.2 730.5,701.4 734.5,701.9 738.5,702.7 742.5,703.5 746.5,704.1 750.5,704.3 754.5,704.6 758.5,704.9 762.5,705.3 766.5,705.9 770.5,706.5 774.5,707.2 778.5,708.0 782.5,709.2 786.5,710.6 790.5,712.0 794.5,713.3 798.5,714.5 802.5,715.5 806.5,715.9 810.5,716.2 814.5,716.1 818.5,715.6 822.5,714.8 826.5,714.2 830.5,714.0 834.5,714.2 838.5,714.7 842.5,715.5 846.5,716.2 850.5,716.7 854.5,717.2 858.5,717.4 862.5,716.8 866.5,715.4 870.5,713.2 874.5,710.6 878.5,707.7 882.5,705.1 886.5,703.3 890.5,701.8 894.5,701.0 898.5,701.3 902.5,702.2 906.5,703.6 910.5,705.1 914.5,707.4 918.5,709.8 922.5,711.4 926.5,712.4 930.5,713.3 934.5,713.7 938.5,714.0 942.5,714.2 946.5,714.6 950.5,714.8 954.5,715.0 958.5,715.5 962.5,716.2 966.5,716.7 970.5,716.8 974.5,716.4 978.5,715.3 982.5,713.6 986.5,711.5 990.5,709.0 994.5,706.5 998.5,704.1 1002.5,702.2 1006.5,701.4 1010.5,701.6 1014.5,703.0 1018.5,704.6 1022.5,706.6 1026.5,708.5 1030.5,710.5 1034.5,712.4 1038.5,714.0 1042.5,715.2 1046.5,716.1 1050.5,716.7 1054.5,717.3 1058.5,717.7 1062.5,718.3 1066.5,718.5 1070.5,718.4 1074.5,718.2 1078.5,717.7 1082.5,716.7 1086.5,715.3 1090.5,713.9 1094.5,712.4 1098.5,710.8 1102.5,709.7 1106.5,709.2 1110.5,709.2 1114.5,709.2 1118.5,709.4 1122.5,709.7 1126.5,709.9 1130.5,710.0 1134.5,709.8 1138.5,709.4 1142.5,708.6 1146.5,707.6 1150.5,706.6 1154.5,705.5 1158.5,704.3 1162.5,703.2 1166.5,702.0 1170.5,700.8 1174.5,699.9 1178.5,699.1 1182.5,698.0 1186.5,696.8 1190.5,695.9 1194.5,695.3 1198.5,695.0 1202.5,695.0 1206.5,695.6 1210.5,696.6 1214.5,697.9 1218.5,699.2 1222.5,700.8 1226.5,702.1 1230.5,703.0 1234.5,703.9 1238.5,704.7 1242.5,704.8 1246.5,704.2 1250.5,703.2 1254.5,701.9 1258.5,700.4 1262.5,699.1 1266.5,698.0" fill="none" stroke="#ff0000" stroke-width="1" stroke-dasharray="3,3"/>
</g>
<text x="6" y="646" font-size="10" fill="#000" text-anchor="start" textLength="154" lengthAdjust="spacingAndGlyphs" stroke="#000" stroke-width="0.18">MACD(12,26,9) -0.012815 -0.016130</text>
<text x="1598" y="644" font-size="10" fill="#000" text-anchor="start" textLength="37" lengthAdjust="spacingAndGlyphs" stroke="#000" stroke-width="0.18">0.042275</text>
<text x="1598" y="684" font-size="10" fill="#000" text-anchor="start" textLength="19" lengthAdjust="spacingAndGlyphs" stroke="#000" stroke-width="0.18">0.00</text>
<text x="1598" y="723" font-size="10" fill="#000" text-anchor="start" textLength="37" lengthAdjust="spacingAndGlyphs" stroke="#000" stroke-width="0.18">-0.04148</text>
<g shape-rendering="crispEdges"><rect x="1595" y="540" width="2" height="1" fill="#000"/><rect x="1595" y="630" width="2" height="1" fill="#000"/><rect x="1595" y="635" width="2" height="1" fill="#000"/><rect x="1595" y="680" width="2" height="1" fill="#000"/><rect x="1595" y="725" width="2" height="1" fill="#000"/></g>
<g shape-rendering="crispEdges">
<rect x="2" y="727" width="1" height="3" fill="#000"/>
<rect x="66" y="727" width="1" height="3" fill="#000"/>
<rect x="130" y="727" width="1" height="3" fill="#000"/>
<rect x="194" y="727" width="1" height="3" fill="#000"/>
<rect x="258" y="727" width="1" height="3" fill="#000"/>
<rect x="322" y="727" width="1" height="3" fill="#000"/>
<rect x="386" y="727" width="1" height="3" fill="#000"/>
<rect x="450" y="727" width="1" height="3" fill="#000"/>
<rect x="514" y="727" width="1" height="3" fill="#000"/>
<rect x="578" y="727" width="1" height="3" fill="#000"/>
<rect x="642" y="727" width="1" height="3" fill="#000"/>
<rect x="706" y="727" width="1" height="3" fill="#000"/>
<rect x="770" y="727" width="1" height="3" fill="#000"/>
<rect x="834" y="727" width="1" height="3" fill="#000"/>
<rect x="898" y="727" width="1" height="3" fill="#000"/>
<rect x="962" y="727" width="1" height="3" fill="#000"/>
<rect x="1026" y="727" width="1" height="3" fill="#000"/>
<rect x="1090" y="727" width="1" height="3" fill="#000"/>
<rect x="1154" y="727" width="1" height="3" fill="#000"/>
<rect x="1218" y="727" width="1" height="3" fill="#000"/>
</g>
<text x="2" y="739" font-size="9.5" fill="#000" text-anchor="start" textLength="50.7" lengthAdjust="spacingAndGlyphs" stroke="#000" stroke-width="0.18">17 Jan 2020</text>
<text x="66" y="739" font-size="9.5" fill="#000" text-anchor="start" textLength="46.6" lengthAdjust="spacingAndGlyphs" stroke="#000" stroke-width="0.18">5 Feb 2020</text>
<text x="130" y="739" font-size="9.5" fill="#000" text-anchor="start" textLength="51.7" lengthAdjust="spacingAndGlyphs" stroke="#000" stroke-width="0.18">24 Feb 2020</text>
<text x="194" y="739" font-size="9.5" fill="#000" text-anchor="start" textLength="51.7" lengthAdjust="spacingAndGlyphs" stroke="#000" stroke-width="0.18">13 Mar 2020</text>
<text x="258" y="739" font-size="9.5" fill="#000" text-anchor="start" textLength="44.5" lengthAdjust="spacingAndGlyphs" stroke="#000" stroke-width="0.18">1 Apr 2020</text>
<text x="322" y="739" font-size="9.5" fill="#000" text-anchor="start" textLength="49.6" lengthAdjust="spacingAndGlyphs" stroke="#000" stroke-width="0.18">20 Apr 2020</text>
<text x="386" y="739" font-size="9.5" fill="#000" text-anchor="start" textLength="48.1" lengthAdjust="spacingAndGlyphs" stroke="#000" stroke-width="0.18">8 May 2020</text>
<text x="450" y="739" font-size="9.5" fill="#000" text-anchor="start" textLength="53.2" lengthAdjust="spacingAndGlyphs" stroke="#000" stroke-width="0.18">27 May 2020</text>
<text x="514" y="739" font-size="9.5" fill="#000" text-anchor="start" textLength="50.7" lengthAdjust="spacingAndGlyphs" stroke="#000" stroke-width="0.18">15 Jun 2020</text>
<text x="578" y="739" font-size="9.5" fill="#000" text-anchor="start" textLength="42.5" lengthAdjust="spacingAndGlyphs" stroke="#000" stroke-width="0.18">3 Jul 2020</text>
<text x="642" y="739" font-size="9.5" fill="#000" text-anchor="start" textLength="47.6" lengthAdjust="spacingAndGlyphs" stroke="#000" stroke-width="0.18">22 Jul 2020</text>
<text x="706" y="739" font-size="9.5" fill="#000" text-anchor="start" textLength="51.7" lengthAdjust="spacingAndGlyphs" stroke="#000" stroke-width="0.18">10 Aug 2020</text>
<text x="770" y="739" font-size="9.5" fill="#000" text-anchor="start" textLength="51.7" lengthAdjust="spacingAndGlyphs" stroke="#000" stroke-width="0.18">28 Aug 2020</text>
<text x="834" y="739" font-size="9.5" fill="#000" text-anchor="start" textLength="52.2" lengthAdjust="spacingAndGlyphs" stroke="#000" stroke-width="0.18">16 Sep 2020</text>
<text x="898" y="739" font-size="9.5" fill="#000" text-anchor="start" textLength="45.0" lengthAdjust="spacingAndGlyphs" stroke="#000" stroke-width="0.18">5 Oct 2020</text>
<text x="962" y="739" font-size="9.5" fill="#000" text-anchor="start" textLength="50.1" lengthAdjust="spacingAndGlyphs" stroke="#000" stroke-width="0.18">23 Oct 2020</text>
<text x="1026" y="739" font-size="9.5" fill="#000" text-anchor="start" textLength="51.5" lengthAdjust="spacingAndGlyphs" stroke="#000" stroke-width="0.18">11 Nov 2020</text>
<text x="1090" y="739" font-size="9.5" fill="#000" text-anchor="start" textLength="52.2" lengthAdjust="spacingAndGlyphs" stroke="#000" stroke-width="0.18">30 Nov 2020</text>
<text x="1154" y="739" font-size="9.5" fill="#000" text-anchor="start" textLength="52.2" lengthAdjust="spacingAndGlyphs" stroke="#000" stroke-width="0.18">18 Dec 2020</text>
<text x="1218" y="739" font-size="9.5" fill="#000" text-anchor="start" textLength="45.5" lengthAdjust="spacingAndGlyphs" stroke="#000" stroke-width="0.18">7 Jan 2021</text>
<g shape-rendering="crispEdges">
<rect x="0" y="747" width="1638" height="1" fill="#e3e3e3"/>
<rect x="0" y="749" width="1638" height="1" fill="#000"/>
<rect x="0" y="750" width="1638" height="19" fill="#f0f0f0"/>
<rect x="0" y="769" width="1638" height="1" fill="#ffffff"/>
<rect x="0" y="770" width="1638" height="3" fill="#f0f0f0"/>
<rect x="416" y="749" width="102" height="18" fill="#ffffff"/>
<rect x="415" y="749" width="1" height="19" fill="#000"/><rect x="518" y="749" width="1" height="19" fill="#000"/><rect x="415" y="767" width="104" height="1" fill="#000"/>
<rect x="107" y="752" width="1" height="14" fill="#555"/>
<rect x="207" y="752" width="1" height="14" fill="#555"/>
<rect x="311" y="752" width="1" height="14" fill="#555"/>
<rect x="623" y="752" width="1" height="14" fill="#555"/>
<rect x="715" y="752" width="1" height="14" fill="#555"/>
<rect x="807" y="752" width="1" height="14" fill="#555"/>
<rect x="879" y="752" width="1" height="14" fill="#555"/>
<rect x="959" y="752" width="1" height="14" fill="#555"/>
<rect x="1039" y="752" width="1" height="14" fill="#555"/>
<rect x="1119" y="752" width="1" height="14" fill="#555"/>
<rect x="1195" y="752" width="1" height="14" fill="#555"/>
<rect x="1295" y="752" width="1" height="14" fill="#555"/>
<rect x="1379" y="752" width="1" height="14" fill="#555"/>
<rect x="1459" y="752" width="1" height="14" fill="#555"/>
<rect x="1559" y="752" width="1" height="14" fill="#555"/>
</g>
<text x="16" y="764" font-size="12" fill="#707070" text-anchor="start" textLength="80" lengthAdjust="spacingAndGlyphs">EURUSD,Daily</text>
<text x="118" y="764" font-size="12" fill="#707070" text-anchor="start" textLength="79" lengthAdjust="spacingAndGlyphs">USDCHF,Daily</text>
<text x="218" y="764" font-size="12" fill="#707070" text-anchor="start" textLength="82" lengthAdjust="spacingAndGlyphs">AUDUSD,Daily</text>
<text x="322" y="764" font-size="12" fill="#707070" text-anchor="start" textLength="81" lengthAdjust="spacingAndGlyphs">USDCAD,Daily</text>
<text x="425" y="764" font-size="12" fill="#000" text-anchor="start" textLength="83" lengthAdjust="spacingAndGlyphs">USDCNH,Daily</text>
<text x="531" y="764" font-size="12" fill="#707070" text-anchor="start" textLength="80" lengthAdjust="spacingAndGlyphs">EURUSD,Daily</text>
<text x="635" y="764" font-size="12" fill="#707070" text-anchor="start" textLength="67" lengthAdjust="spacingAndGlyphs">GBPUSD,H4</text>
<text x="726" y="764" font-size="12" fill="#707070" text-anchor="start" textLength="69" lengthAdjust="spacingAndGlyphs">XAUUSD,H4</text>
<text x="818" y="764" font-size="12" fill="#707070" text-anchor="start" textLength="49" lengthAdjust="spacingAndGlyphs">HK50,H1</text>
<text x="890" y="764" font-size="12" fill="#707070" text-anchor="start" textLength="56" lengthAdjust="spacingAndGlyphs">UK100,H1</text>
<text x="970" y="764" font-size="12" fill="#707070" text-anchor="start" textLength="57" lengthAdjust="spacingAndGlyphs">UK100,H1</text>
<text x="1050" y="764" font-size="12" fill="#707070" text-anchor="start" textLength="56" lengthAdjust="spacingAndGlyphs">GER30,H1</text>
<text x="1129" y="764" font-size="12" fill="#707070" text-anchor="start" textLength="54" lengthAdjust="spacingAndGlyphs">FRA40,H1</text>
<text x="1206" y="764" font-size="12" fill="#707070" text-anchor="start" textLength="77" lengthAdjust="spacingAndGlyphs">USOil,Weekly</text>
<text x="1305" y="764" font-size="12" fill="#707070" text-anchor="start" textLength="63" lengthAdjust="spacingAndGlyphs">USDJPY,H1</text>
<text x="1389" y="764" font-size="12" fill="#707070" text-anchor="start" textLength="59" lengthAdjust="spacingAndGlyphs">DJ30,Daily</text>
<text x="1469" y="764" font-size="12" fill="#707070" text-anchor="start" textLength="78" lengthAdjust="spacingAndGlyphs">CHINA300,H1</text>
<text x="1569" y="764" font-size="12" fill="#707070" text-anchor="start" textLength="34" lengthAdjust="spacingAndGlyphs">USOil,</text>
<path d="M1613,754.5 L1613,761.5 L1609.5,758 Z" fill="#a8a8a8"/><path d="M1629,754.5 L1629,761.5 L1632.5,758 Z" fill="#000"/>
</svg></body></html>
